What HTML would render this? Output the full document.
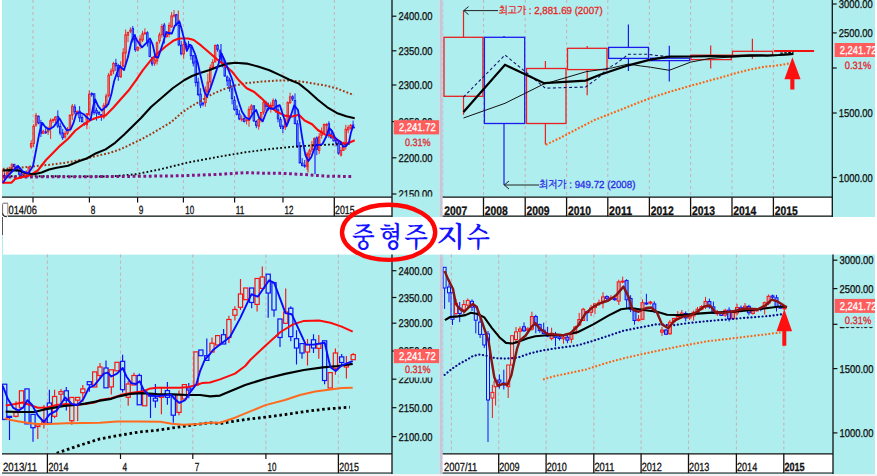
<!DOCTYPE html>
<html lang="ko"><head><meta charset="utf-8"><title>중형주 지수</title>
<style>html,body{margin:0;padding:0;background:#fff;overflow:hidden}svg{display:block}text{white-space:pre}</style>
</head><body>
<svg width="877" height="476" viewBox="0 0 877 476" shape-rendering="auto" text-rendering="geometricPrecision">
<defs>
<clipPath id="cTL"><rect x="2" y="0" width="390" height="197"/></clipPath>
<clipPath id="cTLy"><rect x="392" y="0" width="48" height="196.6"/></clipPath>
<clipPath id="cTR"><rect x="442.5" y="0" width="389.5" height="197"/></clipPath>
<clipPath id="cBL"><rect x="2" y="254.6" width="390" height="199"/></clipPath>
<clipPath id="cBR"><rect x="442.5" y="254.6" width="390" height="199"/></clipPath>
<clipPath id="cR"><rect x="832" y="0" width="43" height="476"/></clipPath>
</defs>
<rect x="0" y="0" width="877" height="476" fill="#fff"/>
<rect x="2.0" y="0.0" width="437.5" height="217.0" fill="#afeeee"/>
<rect x="442.5" y="0.0" width="432.5" height="217.0" fill="#afeeee"/>
<rect x="2.0" y="254.6" width="437.5" height="219.4" fill="#afeeee"/>
<rect x="442.5" y="254.6" width="432.5" height="219.4" fill="#afeeee"/>
<rect x="439.5" y="0.0" width="3.8" height="217.0" fill="#c6c6d7"/>
<rect x="439.5" y="254.6" width="3.8" height="219.4" fill="#c6c6d7"/>
<rect x="0.0" y="474.0" width="877.0" height="2.0" fill="#f2f2f2"/>
<line x1="2.5" y1="217.0" x2="2.5" y2="235.0" stroke="#555" stroke-width="1"/>
<line x1="2.5" y1="235.0" x2="2.5" y2="254.6" stroke="#afeeee" stroke-width="1"/>
<line x1="33.0" y1="0.0" x2="33.0" y2="197.0" stroke="#c9b4b9" stroke-width="1.1" stroke-dasharray="3.1 2.9"/>
<line x1="89.4" y1="0.0" x2="89.4" y2="197.0" stroke="#c9b4b9" stroke-width="1.1" stroke-dasharray="3.1 2.9"/>
<line x1="137.6" y1="0.0" x2="137.6" y2="197.0" stroke="#c9b4b9" stroke-width="1.1" stroke-dasharray="3.1 2.9"/>
<line x1="183.4" y1="0.0" x2="183.4" y2="197.0" stroke="#c9b4b9" stroke-width="1.1" stroke-dasharray="3.1 2.9"/>
<line x1="234.6" y1="0.0" x2="234.6" y2="197.0" stroke="#c9b4b9" stroke-width="1.1" stroke-dasharray="3.1 2.9"/>
<line x1="283.0" y1="0.0" x2="283.0" y2="197.0" stroke="#c9b4b9" stroke-width="1.1" stroke-dasharray="3.1 2.9"/>
<line x1="334.4" y1="0.0" x2="334.4" y2="197.0" stroke="#c9b4b9" stroke-width="1.1" stroke-dasharray="3.1 2.9"/>
<line x1="483.5" y1="0.0" x2="483.5" y2="197.0" stroke="#c9b4b9" stroke-width="1.1" stroke-dasharray="3.1 2.9"/>
<line x1="525.2" y1="0.0" x2="525.2" y2="197.0" stroke="#c9b4b9" stroke-width="1.1" stroke-dasharray="3.1 2.9"/>
<line x1="566.6" y1="0.0" x2="566.6" y2="197.0" stroke="#c9b4b9" stroke-width="1.1" stroke-dasharray="3.1 2.9"/>
<line x1="607.8" y1="0.0" x2="607.8" y2="197.0" stroke="#c9b4b9" stroke-width="1.1" stroke-dasharray="3.1 2.9"/>
<line x1="649.4" y1="0.0" x2="649.4" y2="197.0" stroke="#c9b4b9" stroke-width="1.1" stroke-dasharray="3.1 2.9"/>
<line x1="690.6" y1="0.0" x2="690.6" y2="197.0" stroke="#c9b4b9" stroke-width="1.1" stroke-dasharray="3.1 2.9"/>
<line x1="732.0" y1="0.0" x2="732.0" y2="197.0" stroke="#c9b4b9" stroke-width="1.1" stroke-dasharray="3.1 2.9"/>
<line x1="773.4" y1="0.0" x2="773.4" y2="197.0" stroke="#c9b4b9" stroke-width="1.1" stroke-dasharray="3.1 2.9"/>
<line x1="47.4" y1="254.6" x2="47.4" y2="453.5" stroke="#c9b4b9" stroke-width="1.1" stroke-dasharray="3.1 2.9"/>
<line x1="120.5" y1="254.6" x2="120.5" y2="453.5" stroke="#c9b4b9" stroke-width="1.1" stroke-dasharray="3.1 2.9"/>
<line x1="192.8" y1="254.6" x2="192.8" y2="453.5" stroke="#c9b4b9" stroke-width="1.1" stroke-dasharray="3.1 2.9"/>
<line x1="265.9" y1="254.6" x2="265.9" y2="453.5" stroke="#c9b4b9" stroke-width="1.1" stroke-dasharray="3.1 2.9"/>
<line x1="338.4" y1="254.6" x2="338.4" y2="453.5" stroke="#c9b4b9" stroke-width="1.1" stroke-dasharray="3.1 2.9"/>
<line x1="451.4" y1="254.6" x2="451.4" y2="453.5" stroke="#c9b4b9" stroke-width="1.1" stroke-dasharray="3.1 2.9"/>
<line x1="498.7" y1="254.6" x2="498.7" y2="453.5" stroke="#c9b4b9" stroke-width="1.1" stroke-dasharray="3.1 2.9"/>
<line x1="546.1" y1="254.6" x2="546.1" y2="453.5" stroke="#c9b4b9" stroke-width="1.1" stroke-dasharray="3.1 2.9"/>
<line x1="593.8" y1="254.6" x2="593.8" y2="453.5" stroke="#c9b4b9" stroke-width="1.1" stroke-dasharray="3.1 2.9"/>
<line x1="641.1" y1="254.6" x2="641.1" y2="453.5" stroke="#c9b4b9" stroke-width="1.1" stroke-dasharray="3.1 2.9"/>
<line x1="688.5" y1="254.6" x2="688.5" y2="453.5" stroke="#c9b4b9" stroke-width="1.1" stroke-dasharray="3.1 2.9"/>
<line x1="736.4" y1="254.6" x2="736.4" y2="453.5" stroke="#c9b4b9" stroke-width="1.1" stroke-dasharray="3.1 2.9"/>
<line x1="783.8" y1="254.6" x2="783.8" y2="453.5" stroke="#c9b4b9" stroke-width="1.1" stroke-dasharray="3.1 2.9"/>
<line x1="442.9" y1="0.0" x2="442.9" y2="217.0" stroke="#afeeee" stroke-width="0.9" stroke-dasharray="3 3"/>
<line x1="442.9" y1="254.6" x2="442.9" y2="474.0" stroke="#afeeee" stroke-width="0.9" stroke-dasharray="3 3"/>
<!--DATA-->
<!--AXES-->
<g clip-path="url(#cTL)">
<rect x="2.3" y="170.0" width="2.0" height="13.0" fill="none" stroke="#fa1414" stroke-width="1"/>
<line x1="4.6" y1="173.5" x2="4.6" y2="175.7" stroke="#1010fa" stroke-width="0.9"/>
<line x1="4.6" y1="176.7" x2="4.6" y2="178.5" stroke="#1010fa" stroke-width="0.9"/>
<rect x="3.8" y="175.7" width="1.5" height="1.0" fill="#1010fa" fill-opacity="0.35" stroke="#1010fa" stroke-width="0.9"/>
<line x1="7.0" y1="171.6" x2="7.0" y2="172.7" stroke="#fa1414" stroke-width="0.9"/>
<line x1="7.0" y1="176.7" x2="7.0" y2="178.2" stroke="#fa1414" stroke-width="0.9"/>
<rect x="6.3" y="172.7" width="1.5" height="4.1" fill="#fa1414" fill-opacity="0.35" stroke="#fa1414" stroke-width="0.9"/>
<line x1="9.4" y1="166.7" x2="9.4" y2="170.1" stroke="#fa1414" stroke-width="0.9"/>
<line x1="9.4" y1="174.2" x2="9.4" y2="175.1" stroke="#fa1414" stroke-width="0.9"/>
<rect x="8.7" y="170.1" width="1.5" height="4.1" fill="#fa1414" fill-opacity="0.35" stroke="#fa1414" stroke-width="0.9"/>
<line x1="11.9" y1="163.0" x2="11.9" y2="164.8" stroke="#fa1414" stroke-width="0.9"/>
<line x1="11.9" y1="170.2" x2="11.9" y2="172.4" stroke="#fa1414" stroke-width="0.9"/>
<rect x="11.1" y="164.8" width="1.5" height="5.4" fill="#fa1414" fill-opacity="0.35" stroke="#fa1414" stroke-width="0.9"/>
<line x1="14.3" y1="163.8" x2="14.3" y2="164.4" stroke="#1010fa" stroke-width="0.9"/>
<line x1="14.3" y1="166.7" x2="14.3" y2="169.5" stroke="#1010fa" stroke-width="0.9"/>
<rect x="13.5" y="164.4" width="1.5" height="2.3" fill="#1010fa" fill-opacity="0.35" stroke="#1010fa" stroke-width="0.9"/>
<line x1="16.7" y1="165.5" x2="16.7" y2="167.0" stroke="#1010fa" stroke-width="0.9"/>
<line x1="16.7" y1="170.5" x2="16.7" y2="171.6" stroke="#1010fa" stroke-width="0.9"/>
<rect x="15.9" y="167.0" width="1.5" height="3.5" fill="#1010fa" fill-opacity="0.35" stroke="#1010fa" stroke-width="0.9"/>
<line x1="19.1" y1="167.8" x2="19.1" y2="170.7" stroke="#1010fa" stroke-width="0.9"/>
<line x1="19.1" y1="174.3" x2="19.1" y2="175.2" stroke="#1010fa" stroke-width="0.9"/>
<rect x="18.4" y="170.7" width="1.5" height="3.6" fill="#1010fa" fill-opacity="0.35" stroke="#1010fa" stroke-width="0.9"/>
<line x1="21.5" y1="172.0" x2="21.5" y2="173.8" stroke="#1010fa" stroke-width="0.9"/>
<line x1="21.5" y1="175.2" x2="21.5" y2="176.4" stroke="#1010fa" stroke-width="0.9"/>
<rect x="20.8" y="173.8" width="1.5" height="1.4" fill="#1010fa" fill-opacity="0.35" stroke="#1010fa" stroke-width="0.9"/>
<line x1="24.0" y1="172.8" x2="24.0" y2="173.7" stroke="#fa1414" stroke-width="0.9"/>
<line x1="24.0" y1="174.7" x2="24.0" y2="175.6" stroke="#fa1414" stroke-width="0.9"/>
<rect x="23.2" y="173.7" width="1.5" height="1.0" fill="#fa1414" fill-opacity="0.35" stroke="#fa1414" stroke-width="0.9"/>
<line x1="26.4" y1="170.5" x2="26.4" y2="173.0" stroke="#fa1414" stroke-width="0.9"/>
<line x1="26.4" y1="174.0" x2="26.4" y2="175.2" stroke="#fa1414" stroke-width="0.9"/>
<rect x="25.6" y="173.0" width="1.5" height="1.0" fill="#fa1414" fill-opacity="0.35" stroke="#fa1414" stroke-width="0.9"/>
<line x1="28.8" y1="166.1" x2="28.8" y2="167.6" stroke="#fa1414" stroke-width="0.9"/>
<line x1="28.8" y1="173.5" x2="28.8" y2="174.9" stroke="#fa1414" stroke-width="0.9"/>
<rect x="28.0" y="167.6" width="1.5" height="5.9" fill="#fa1414" fill-opacity="0.35" stroke="#fa1414" stroke-width="0.9"/>
<line x1="31.2" y1="140.2" x2="31.2" y2="143.5" stroke="#fa1414" stroke-width="0.9"/>
<line x1="31.2" y1="146.8" x2="31.2" y2="148.7" stroke="#fa1414" stroke-width="0.9"/>
<rect x="30.4" y="143.5" width="1.5" height="3.3" fill="#fa1414" fill-opacity="0.35" stroke="#fa1414" stroke-width="0.9"/>
<line x1="33.6" y1="124.2" x2="33.6" y2="126.1" stroke="#fa1414" stroke-width="0.9"/>
<line x1="33.6" y1="143.5" x2="33.6" y2="147.2" stroke="#fa1414" stroke-width="0.9"/>
<rect x="32.9" y="126.1" width="1.5" height="17.4" fill="#fa1414" fill-opacity="0.35" stroke="#fa1414" stroke-width="0.9"/>
<line x1="36.0" y1="112.9" x2="36.0" y2="115.4" stroke="#fa1414" stroke-width="0.9"/>
<line x1="36.0" y1="125.0" x2="36.0" y2="126.8" stroke="#fa1414" stroke-width="0.9"/>
<rect x="35.3" y="115.4" width="1.5" height="9.6" fill="#fa1414" fill-opacity="0.35" stroke="#fa1414" stroke-width="0.9"/>
<line x1="38.5" y1="115.5" x2="38.5" y2="116.2" stroke="#1010fa" stroke-width="0.9"/>
<line x1="38.5" y1="122.9" x2="38.5" y2="124.1" stroke="#1010fa" stroke-width="0.9"/>
<rect x="37.7" y="116.2" width="1.5" height="6.7" fill="#1010fa" fill-opacity="0.35" stroke="#1010fa" stroke-width="0.9"/>
<line x1="40.9" y1="119.9" x2="40.9" y2="122.6" stroke="#1010fa" stroke-width="0.9"/>
<line x1="40.9" y1="133.2" x2="40.9" y2="137.0" stroke="#1010fa" stroke-width="0.9"/>
<rect x="40.1" y="122.6" width="1.5" height="10.6" fill="#1010fa" fill-opacity="0.35" stroke="#1010fa" stroke-width="0.9"/>
<line x1="43.3" y1="129.7" x2="43.3" y2="131.2" stroke="#fa1414" stroke-width="0.9"/>
<line x1="43.3" y1="133.4" x2="43.3" y2="133.9" stroke="#fa1414" stroke-width="0.9"/>
<rect x="42.5" y="131.2" width="1.5" height="2.2" fill="#fa1414" fill-opacity="0.35" stroke="#fa1414" stroke-width="0.9"/>
<line x1="45.7" y1="128.2" x2="45.7" y2="131.8" stroke="#1010fa" stroke-width="0.9"/>
<line x1="45.7" y1="132.8" x2="45.7" y2="133.9" stroke="#1010fa" stroke-width="0.9"/>
<rect x="45.0" y="131.8" width="1.5" height="1.0" fill="#1010fa" fill-opacity="0.35" stroke="#1010fa" stroke-width="0.9"/>
<line x1="48.1" y1="126.4" x2="48.1" y2="129.1" stroke="#fa1414" stroke-width="0.9"/>
<line x1="48.1" y1="131.9" x2="48.1" y2="135.0" stroke="#fa1414" stroke-width="0.9"/>
<rect x="47.4" y="129.1" width="1.5" height="2.8" fill="#fa1414" fill-opacity="0.35" stroke="#fa1414" stroke-width="0.9"/>
<line x1="50.6" y1="118.4" x2="50.6" y2="120.6" stroke="#fa1414" stroke-width="0.9"/>
<line x1="50.6" y1="128.3" x2="50.6" y2="139.0" stroke="#fa1414" stroke-width="0.9"/>
<rect x="49.8" y="120.6" width="1.5" height="7.7" fill="#fa1414" fill-opacity="0.35" stroke="#fa1414" stroke-width="0.9"/>
<line x1="53.0" y1="118.3" x2="53.0" y2="119.6" stroke="#fa1414" stroke-width="0.9"/>
<line x1="53.0" y1="120.6" x2="53.0" y2="123.0" stroke="#fa1414" stroke-width="0.9"/>
<rect x="52.2" y="119.6" width="1.5" height="1.0" fill="#fa1414" fill-opacity="0.35" stroke="#fa1414" stroke-width="0.9"/>
<line x1="55.4" y1="116.3" x2="55.4" y2="117.0" stroke="#fa1414" stroke-width="0.9"/>
<line x1="55.4" y1="119.9" x2="55.4" y2="123.3" stroke="#fa1414" stroke-width="0.9"/>
<rect x="54.6" y="117.0" width="1.5" height="2.9" fill="#fa1414" fill-opacity="0.35" stroke="#fa1414" stroke-width="0.9"/>
<line x1="57.8" y1="110.3" x2="57.8" y2="116.3" stroke="#1010fa" stroke-width="0.9"/>
<line x1="57.8" y1="126.2" x2="57.8" y2="128.1" stroke="#1010fa" stroke-width="0.9"/>
<rect x="57.1" y="116.3" width="1.5" height="9.9" fill="#1010fa" fill-opacity="0.35" stroke="#1010fa" stroke-width="0.9"/>
<line x1="60.2" y1="122.9" x2="60.2" y2="126.2" stroke="#1010fa" stroke-width="0.9"/>
<line x1="60.2" y1="133.1" x2="60.2" y2="135.3" stroke="#1010fa" stroke-width="0.9"/>
<rect x="59.5" y="126.2" width="1.5" height="6.9" fill="#1010fa" fill-opacity="0.35" stroke="#1010fa" stroke-width="0.9"/>
<line x1="62.7" y1="128.8" x2="62.7" y2="133.0" stroke="#1010fa" stroke-width="0.9"/>
<line x1="62.7" y1="137.6" x2="62.7" y2="139.9" stroke="#1010fa" stroke-width="0.9"/>
<rect x="61.9" y="133.0" width="1.5" height="4.6" fill="#1010fa" fill-opacity="0.35" stroke="#1010fa" stroke-width="0.9"/>
<line x1="65.1" y1="130.8" x2="65.1" y2="133.5" stroke="#fa1414" stroke-width="0.9"/>
<line x1="65.1" y1="136.9" x2="65.1" y2="138.7" stroke="#fa1414" stroke-width="0.9"/>
<rect x="64.3" y="133.5" width="1.5" height="3.5" fill="#fa1414" fill-opacity="0.35" stroke="#fa1414" stroke-width="0.9"/>
<line x1="67.5" y1="127.1" x2="67.5" y2="129.2" stroke="#fa1414" stroke-width="0.9"/>
<line x1="67.5" y1="133.1" x2="67.5" y2="135.1" stroke="#fa1414" stroke-width="0.9"/>
<rect x="66.8" y="129.2" width="1.5" height="4.0" fill="#fa1414" fill-opacity="0.35" stroke="#fa1414" stroke-width="0.9"/>
<line x1="69.9" y1="114.3" x2="69.9" y2="115.3" stroke="#fa1414" stroke-width="0.9"/>
<line x1="69.9" y1="129.4" x2="69.9" y2="131.6" stroke="#fa1414" stroke-width="0.9"/>
<rect x="69.2" y="115.3" width="1.5" height="14.1" fill="#fa1414" fill-opacity="0.35" stroke="#fa1414" stroke-width="0.9"/>
<line x1="72.3" y1="104.0" x2="72.3" y2="106.2" stroke="#fa1414" stroke-width="0.9"/>
<line x1="72.3" y1="115.0" x2="72.3" y2="119.9" stroke="#fa1414" stroke-width="0.9"/>
<rect x="71.6" y="106.2" width="1.5" height="8.8" fill="#fa1414" fill-opacity="0.35" stroke="#fa1414" stroke-width="0.9"/>
<line x1="74.8" y1="104.3" x2="74.8" y2="107.0" stroke="#1010fa" stroke-width="0.9"/>
<line x1="74.8" y1="111.9" x2="74.8" y2="114.4" stroke="#1010fa" stroke-width="0.9"/>
<rect x="74.0" y="107.0" width="1.5" height="4.9" fill="#1010fa" fill-opacity="0.35" stroke="#1010fa" stroke-width="0.9"/>
<line x1="77.2" y1="110.3" x2="77.2" y2="111.6" stroke="#fa1414" stroke-width="0.9"/>
<line x1="77.2" y1="112.6" x2="77.2" y2="115.4" stroke="#fa1414" stroke-width="0.9"/>
<rect x="76.4" y="111.6" width="1.5" height="1.0" fill="#fa1414" fill-opacity="0.35" stroke="#fa1414" stroke-width="0.9"/>
<line x1="79.6" y1="106.1" x2="79.6" y2="111.2" stroke="#1010fa" stroke-width="0.9"/>
<line x1="79.6" y1="117.9" x2="79.6" y2="121.9" stroke="#1010fa" stroke-width="0.9"/>
<rect x="78.8" y="111.2" width="1.5" height="6.7" fill="#1010fa" fill-opacity="0.35" stroke="#1010fa" stroke-width="0.9"/>
<line x1="82.0" y1="115.1" x2="82.0" y2="117.5" stroke="#1010fa" stroke-width="0.9"/>
<line x1="82.0" y1="121.7" x2="82.0" y2="122.3" stroke="#1010fa" stroke-width="0.9"/>
<rect x="81.3" y="117.5" width="1.5" height="4.2" fill="#1010fa" fill-opacity="0.35" stroke="#1010fa" stroke-width="0.9"/>
<line x1="84.4" y1="122.4" x2="84.4" y2="123.2" stroke="#1010fa" stroke-width="0.9"/>
<line x1="84.4" y1="124.2" x2="84.4" y2="125.7" stroke="#1010fa" stroke-width="0.9"/>
<rect x="83.7" y="123.2" width="1.5" height="1.0" fill="#1010fa" fill-opacity="0.35" stroke="#1010fa" stroke-width="0.9"/>
<line x1="86.9" y1="113.2" x2="86.9" y2="113.7" stroke="#fa1414" stroke-width="0.9"/>
<line x1="86.9" y1="124.8" x2="86.9" y2="129.2" stroke="#fa1414" stroke-width="0.9"/>
<rect x="86.1" y="113.7" width="1.5" height="11.0" fill="#fa1414" fill-opacity="0.35" stroke="#fa1414" stroke-width="0.9"/>
<line x1="89.3" y1="90.4" x2="89.3" y2="94.2" stroke="#fa1414" stroke-width="0.9"/>
<line x1="89.3" y1="114.4" x2="89.3" y2="115.7" stroke="#fa1414" stroke-width="0.9"/>
<rect x="88.5" y="94.2" width="1.5" height="20.2" fill="#fa1414" fill-opacity="0.35" stroke="#fa1414" stroke-width="0.9"/>
<line x1="91.7" y1="92.3" x2="91.7" y2="93.4" stroke="#1010fa" stroke-width="0.9"/>
<line x1="91.7" y1="94.7" x2="91.7" y2="96.7" stroke="#1010fa" stroke-width="0.9"/>
<rect x="91.0" y="93.4" width="1.5" height="1.3" fill="#1010fa" fill-opacity="0.35" stroke="#1010fa" stroke-width="0.9"/>
<line x1="94.1" y1="93.4" x2="94.1" y2="93.8" stroke="#1010fa" stroke-width="0.9"/>
<line x1="94.1" y1="112.5" x2="94.1" y2="114.9" stroke="#1010fa" stroke-width="0.9"/>
<rect x="93.4" y="93.8" width="1.5" height="18.7" fill="#1010fa" fill-opacity="0.35" stroke="#1010fa" stroke-width="0.9"/>
<line x1="96.5" y1="107.7" x2="96.5" y2="110.5" stroke="#1010fa" stroke-width="0.9"/>
<line x1="96.5" y1="113.3" x2="96.5" y2="120.6" stroke="#1010fa" stroke-width="0.9"/>
<rect x="95.8" y="110.5" width="1.5" height="2.7" fill="#1010fa" fill-opacity="0.35" stroke="#1010fa" stroke-width="0.9"/>
<line x1="99.0" y1="110.9" x2="99.0" y2="112.5" stroke="#1010fa" stroke-width="0.9"/>
<line x1="99.0" y1="114.2" x2="99.0" y2="115.3" stroke="#1010fa" stroke-width="0.9"/>
<rect x="98.2" y="112.5" width="1.5" height="1.7" fill="#1010fa" fill-opacity="0.35" stroke="#1010fa" stroke-width="0.9"/>
<line x1="101.4" y1="114.0" x2="101.4" y2="114.7" stroke="#1010fa" stroke-width="0.9"/>
<line x1="101.4" y1="115.7" x2="101.4" y2="120.8" stroke="#1010fa" stroke-width="0.9"/>
<rect x="100.6" y="114.7" width="1.5" height="1.0" fill="#1010fa" fill-opacity="0.35" stroke="#1010fa" stroke-width="0.9"/>
<line x1="103.8" y1="103.1" x2="103.8" y2="105.6" stroke="#fa1414" stroke-width="0.9"/>
<line x1="103.8" y1="117.3" x2="103.8" y2="119.1" stroke="#fa1414" stroke-width="0.9"/>
<rect x="103.0" y="105.6" width="1.5" height="11.6" fill="#fa1414" fill-opacity="0.35" stroke="#fa1414" stroke-width="0.9"/>
<line x1="106.2" y1="93.7" x2="106.2" y2="96.0" stroke="#fa1414" stroke-width="0.9"/>
<line x1="106.2" y1="106.8" x2="106.2" y2="108.1" stroke="#fa1414" stroke-width="0.9"/>
<rect x="105.5" y="96.0" width="1.5" height="10.8" fill="#fa1414" fill-opacity="0.35" stroke="#fa1414" stroke-width="0.9"/>
<line x1="108.6" y1="73.0" x2="108.6" y2="75.3" stroke="#fa1414" stroke-width="0.9"/>
<line x1="108.6" y1="95.4" x2="108.6" y2="97.4" stroke="#fa1414" stroke-width="0.9"/>
<rect x="107.9" y="75.3" width="1.5" height="20.2" fill="#fa1414" fill-opacity="0.35" stroke="#fa1414" stroke-width="0.9"/>
<line x1="111.1" y1="68.3" x2="111.1" y2="71.0" stroke="#fa1414" stroke-width="0.9"/>
<line x1="111.1" y1="75.0" x2="111.1" y2="75.6" stroke="#fa1414" stroke-width="0.9"/>
<rect x="110.3" y="71.0" width="1.5" height="4.0" fill="#fa1414" fill-opacity="0.35" stroke="#fa1414" stroke-width="0.9"/>
<line x1="113.5" y1="61.8" x2="113.5" y2="63.5" stroke="#fa1414" stroke-width="0.9"/>
<line x1="113.5" y1="71.1" x2="113.5" y2="74.1" stroke="#fa1414" stroke-width="0.9"/>
<rect x="112.7" y="63.5" width="1.5" height="7.6" fill="#fa1414" fill-opacity="0.35" stroke="#fa1414" stroke-width="0.9"/>
<line x1="115.9" y1="58.8" x2="115.9" y2="63.3" stroke="#1010fa" stroke-width="0.9"/>
<line x1="115.9" y1="65.8" x2="115.9" y2="71.0" stroke="#1010fa" stroke-width="0.9"/>
<rect x="115.2" y="63.3" width="1.5" height="2.5" fill="#1010fa" fill-opacity="0.35" stroke="#1010fa" stroke-width="0.9"/>
<line x1="118.3" y1="63.8" x2="118.3" y2="65.6" stroke="#1010fa" stroke-width="0.9"/>
<line x1="118.3" y1="76.7" x2="118.3" y2="80.8" stroke="#1010fa" stroke-width="0.9"/>
<rect x="117.6" y="65.6" width="1.5" height="11.0" fill="#1010fa" fill-opacity="0.35" stroke="#1010fa" stroke-width="0.9"/>
<line x1="120.7" y1="61.2" x2="120.7" y2="68.1" stroke="#fa1414" stroke-width="0.9"/>
<line x1="120.7" y1="76.8" x2="120.7" y2="78.0" stroke="#fa1414" stroke-width="0.9"/>
<rect x="120.0" y="68.1" width="1.5" height="8.7" fill="#fa1414" fill-opacity="0.35" stroke="#fa1414" stroke-width="0.9"/>
<line x1="123.2" y1="48.2" x2="123.2" y2="52.8" stroke="#fa1414" stroke-width="0.9"/>
<line x1="123.2" y1="66.1" x2="123.2" y2="67.0" stroke="#fa1414" stroke-width="0.9"/>
<rect x="122.4" y="52.8" width="1.5" height="13.3" fill="#fa1414" fill-opacity="0.35" stroke="#fa1414" stroke-width="0.9"/>
<line x1="125.6" y1="29.5" x2="125.6" y2="34.8" stroke="#fa1414" stroke-width="0.9"/>
<line x1="125.6" y1="53.0" x2="125.6" y2="63.8" stroke="#fa1414" stroke-width="0.9"/>
<rect x="124.8" y="34.8" width="1.5" height="18.2" fill="#fa1414" fill-opacity="0.35" stroke="#fa1414" stroke-width="0.9"/>
<line x1="128.0" y1="31.6" x2="128.0" y2="32.5" stroke="#fa1414" stroke-width="0.9"/>
<line x1="128.0" y1="35.2" x2="128.0" y2="42.1" stroke="#fa1414" stroke-width="0.9"/>
<rect x="127.2" y="32.5" width="1.5" height="2.7" fill="#fa1414" fill-opacity="0.35" stroke="#fa1414" stroke-width="0.9"/>
<line x1="130.4" y1="27.4" x2="130.4" y2="30.2" stroke="#fa1414" stroke-width="0.9"/>
<line x1="130.4" y1="31.2" x2="130.4" y2="33.1" stroke="#fa1414" stroke-width="0.9"/>
<rect x="129.7" y="30.2" width="1.5" height="1.0" fill="#fa1414" fill-opacity="0.35" stroke="#fa1414" stroke-width="0.9"/>
<line x1="132.8" y1="26.0" x2="132.8" y2="28.6" stroke="#1010fa" stroke-width="0.9"/>
<line x1="132.8" y1="40.0" x2="132.8" y2="42.7" stroke="#1010fa" stroke-width="0.9"/>
<rect x="132.1" y="28.6" width="1.5" height="11.4" fill="#1010fa" fill-opacity="0.35" stroke="#1010fa" stroke-width="0.9"/>
<line x1="135.3" y1="34.2" x2="135.3" y2="38.4" stroke="#1010fa" stroke-width="0.9"/>
<line x1="135.3" y1="49.6" x2="135.3" y2="51.9" stroke="#1010fa" stroke-width="0.9"/>
<rect x="134.5" y="38.4" width="1.5" height="11.2" fill="#1010fa" fill-opacity="0.35" stroke="#1010fa" stroke-width="0.9"/>
<line x1="137.7" y1="46.2" x2="137.7" y2="47.5" stroke="#fa1414" stroke-width="0.9"/>
<line x1="137.7" y1="50.4" x2="137.7" y2="51.5" stroke="#fa1414" stroke-width="0.9"/>
<rect x="136.9" y="47.5" width="1.5" height="2.8" fill="#fa1414" fill-opacity="0.35" stroke="#fa1414" stroke-width="0.9"/>
<line x1="140.1" y1="35.2" x2="140.1" y2="39.1" stroke="#fa1414" stroke-width="0.9"/>
<line x1="140.1" y1="45.5" x2="140.1" y2="49.2" stroke="#fa1414" stroke-width="0.9"/>
<rect x="139.3" y="39.1" width="1.5" height="6.4" fill="#fa1414" fill-opacity="0.35" stroke="#fa1414" stroke-width="0.9"/>
<line x1="142.5" y1="30.8" x2="142.5" y2="34.0" stroke="#fa1414" stroke-width="0.9"/>
<line x1="142.5" y1="40.0" x2="142.5" y2="42.0" stroke="#fa1414" stroke-width="0.9"/>
<rect x="141.8" y="34.0" width="1.5" height="6.0" fill="#fa1414" fill-opacity="0.35" stroke="#fa1414" stroke-width="0.9"/>
<line x1="144.9" y1="28.3" x2="144.9" y2="32.7" stroke="#fa1414" stroke-width="0.9"/>
<line x1="144.9" y1="33.7" x2="144.9" y2="34.9" stroke="#fa1414" stroke-width="0.9"/>
<rect x="144.2" y="32.7" width="1.5" height="1.0" fill="#fa1414" fill-opacity="0.35" stroke="#fa1414" stroke-width="0.9"/>
<line x1="147.4" y1="31.3" x2="147.4" y2="32.8" stroke="#1010fa" stroke-width="0.9"/>
<line x1="147.4" y1="42.9" x2="147.4" y2="46.7" stroke="#1010fa" stroke-width="0.9"/>
<rect x="146.6" y="32.8" width="1.5" height="10.2" fill="#1010fa" fill-opacity="0.35" stroke="#1010fa" stroke-width="0.9"/>
<line x1="149.8" y1="41.3" x2="149.8" y2="41.7" stroke="#1010fa" stroke-width="0.9"/>
<line x1="149.8" y1="56.4" x2="149.8" y2="57.3" stroke="#1010fa" stroke-width="0.9"/>
<rect x="149.0" y="41.7" width="1.5" height="14.7" fill="#1010fa" fill-opacity="0.35" stroke="#1010fa" stroke-width="0.9"/>
<line x1="152.2" y1="56.7" x2="152.2" y2="57.6" stroke="#1010fa" stroke-width="0.9"/>
<line x1="152.2" y1="63.9" x2="152.2" y2="66.1" stroke="#1010fa" stroke-width="0.9"/>
<rect x="151.4" y="57.6" width="1.5" height="6.3" fill="#1010fa" fill-opacity="0.35" stroke="#1010fa" stroke-width="0.9"/>
<line x1="154.6" y1="53.7" x2="154.6" y2="60.0" stroke="#fa1414" stroke-width="0.9"/>
<line x1="154.6" y1="63.2" x2="154.6" y2="65.9" stroke="#fa1414" stroke-width="0.9"/>
<rect x="153.9" y="60.0" width="1.5" height="3.2" fill="#fa1414" fill-opacity="0.35" stroke="#fa1414" stroke-width="0.9"/>
<line x1="157.0" y1="41.4" x2="157.0" y2="42.8" stroke="#fa1414" stroke-width="0.9"/>
<line x1="157.0" y1="61.1" x2="157.0" y2="64.6" stroke="#fa1414" stroke-width="0.9"/>
<rect x="156.3" y="42.8" width="1.5" height="18.3" fill="#fa1414" fill-opacity="0.35" stroke="#fa1414" stroke-width="0.9"/>
<line x1="159.5" y1="32.5" x2="159.5" y2="35.0" stroke="#fa1414" stroke-width="0.9"/>
<line x1="159.5" y1="41.1" x2="159.5" y2="43.5" stroke="#fa1414" stroke-width="0.9"/>
<rect x="158.7" y="35.0" width="1.5" height="6.0" fill="#fa1414" fill-opacity="0.35" stroke="#fa1414" stroke-width="0.9"/>
<line x1="161.9" y1="23.8" x2="161.9" y2="26.5" stroke="#fa1414" stroke-width="0.9"/>
<line x1="161.9" y1="34.7" x2="161.9" y2="37.7" stroke="#fa1414" stroke-width="0.9"/>
<rect x="161.1" y="26.5" width="1.5" height="8.2" fill="#fa1414" fill-opacity="0.35" stroke="#fa1414" stroke-width="0.9"/>
<line x1="164.3" y1="22.9" x2="164.3" y2="25.1" stroke="#1010fa" stroke-width="0.9"/>
<line x1="164.3" y1="36.1" x2="164.3" y2="43.6" stroke="#1010fa" stroke-width="0.9"/>
<rect x="163.5" y="25.1" width="1.5" height="11.0" fill="#1010fa" fill-opacity="0.35" stroke="#1010fa" stroke-width="0.9"/>
<line x1="166.7" y1="31.0" x2="166.7" y2="33.7" stroke="#fa1414" stroke-width="0.9"/>
<line x1="166.7" y1="36.6" x2="166.7" y2="37.7" stroke="#fa1414" stroke-width="0.9"/>
<rect x="166.0" y="33.7" width="1.5" height="2.9" fill="#fa1414" fill-opacity="0.35" stroke="#fa1414" stroke-width="0.9"/>
<line x1="169.1" y1="22.5" x2="169.1" y2="25.4" stroke="#fa1414" stroke-width="0.9"/>
<line x1="169.1" y1="34.5" x2="169.1" y2="37.4" stroke="#fa1414" stroke-width="0.9"/>
<rect x="168.4" y="25.4" width="1.5" height="9.1" fill="#fa1414" fill-opacity="0.35" stroke="#fa1414" stroke-width="0.9"/>
<line x1="171.6" y1="12.2" x2="171.6" y2="15.9" stroke="#fa1414" stroke-width="0.9"/>
<line x1="171.6" y1="26.9" x2="171.6" y2="27.6" stroke="#fa1414" stroke-width="0.9"/>
<rect x="170.8" y="15.9" width="1.5" height="11.0" fill="#fa1414" fill-opacity="0.35" stroke="#fa1414" stroke-width="0.9"/>
<line x1="174.0" y1="10.0" x2="174.0" y2="15.0" stroke="#fa1414" stroke-width="0.9"/>
<line x1="174.0" y1="16.0" x2="174.0" y2="17.6" stroke="#fa1414" stroke-width="0.9"/>
<rect x="173.2" y="15.0" width="1.5" height="1.0" fill="#fa1414" fill-opacity="0.35" stroke="#fa1414" stroke-width="0.9"/>
<line x1="176.4" y1="14.1" x2="176.4" y2="14.6" stroke="#1010fa" stroke-width="0.9"/>
<line x1="176.4" y1="24.8" x2="176.4" y2="25.8" stroke="#1010fa" stroke-width="0.9"/>
<rect x="175.6" y="14.6" width="1.5" height="10.2" fill="#1010fa" fill-opacity="0.35" stroke="#1010fa" stroke-width="0.9"/>
<line x1="178.8" y1="19.6" x2="178.8" y2="25.5" stroke="#1010fa" stroke-width="0.9"/>
<line x1="178.8" y1="44.8" x2="178.8" y2="46.1" stroke="#1010fa" stroke-width="0.9"/>
<rect x="178.1" y="25.5" width="1.5" height="19.3" fill="#1010fa" fill-opacity="0.35" stroke="#1010fa" stroke-width="0.9"/>
<line x1="181.2" y1="40.8" x2="181.2" y2="45.3" stroke="#1010fa" stroke-width="0.9"/>
<line x1="181.2" y1="53.6" x2="181.2" y2="55.3" stroke="#1010fa" stroke-width="0.9"/>
<rect x="180.5" y="45.3" width="1.5" height="8.4" fill="#1010fa" fill-opacity="0.35" stroke="#1010fa" stroke-width="0.9"/>
<line x1="183.7" y1="40.8" x2="183.7" y2="44.3" stroke="#fa1414" stroke-width="0.9"/>
<line x1="183.7" y1="54.0" x2="183.7" y2="58.9" stroke="#fa1414" stroke-width="0.9"/>
<rect x="182.9" y="44.3" width="1.5" height="9.7" fill="#fa1414" fill-opacity="0.35" stroke="#fa1414" stroke-width="0.9"/>
<line x1="186.1" y1="42.5" x2="186.1" y2="44.0" stroke="#1010fa" stroke-width="0.9"/>
<line x1="186.1" y1="45.9" x2="186.1" y2="49.5" stroke="#1010fa" stroke-width="0.9"/>
<rect x="185.3" y="44.0" width="1.5" height="1.9" fill="#1010fa" fill-opacity="0.35" stroke="#1010fa" stroke-width="0.9"/>
<line x1="188.5" y1="40.9" x2="188.5" y2="46.0" stroke="#1010fa" stroke-width="0.9"/>
<line x1="188.5" y1="47.0" x2="188.5" y2="48.2" stroke="#1010fa" stroke-width="0.9"/>
<rect x="187.7" y="46.0" width="1.5" height="1.0" fill="#1010fa" fill-opacity="0.35" stroke="#1010fa" stroke-width="0.9"/>
<line x1="190.9" y1="44.6" x2="190.9" y2="47.6" stroke="#1010fa" stroke-width="0.9"/>
<line x1="190.9" y1="55.7" x2="190.9" y2="59.9" stroke="#1010fa" stroke-width="0.9"/>
<rect x="190.2" y="47.6" width="1.5" height="8.1" fill="#1010fa" fill-opacity="0.35" stroke="#1010fa" stroke-width="0.9"/>
<line x1="193.3" y1="55.0" x2="193.3" y2="55.6" stroke="#1010fa" stroke-width="0.9"/>
<line x1="193.3" y1="63.0" x2="193.3" y2="66.4" stroke="#1010fa" stroke-width="0.9"/>
<rect x="192.6" y="55.6" width="1.5" height="7.5" fill="#1010fa" fill-opacity="0.35" stroke="#1010fa" stroke-width="0.9"/>
<line x1="195.8" y1="54.9" x2="195.8" y2="61.3" stroke="#1010fa" stroke-width="0.9"/>
<line x1="195.8" y1="82.5" x2="195.8" y2="86.6" stroke="#1010fa" stroke-width="0.9"/>
<rect x="195.0" y="61.3" width="1.5" height="21.3" fill="#1010fa" fill-opacity="0.35" stroke="#1010fa" stroke-width="0.9"/>
<line x1="198.2" y1="77.7" x2="198.2" y2="82.1" stroke="#1010fa" stroke-width="0.9"/>
<line x1="198.2" y1="94.6" x2="198.2" y2="96.2" stroke="#1010fa" stroke-width="0.9"/>
<rect x="197.4" y="82.1" width="1.5" height="12.5" fill="#1010fa" fill-opacity="0.35" stroke="#1010fa" stroke-width="0.9"/>
<line x1="200.6" y1="88.2" x2="200.6" y2="94.2" stroke="#1010fa" stroke-width="0.9"/>
<line x1="200.6" y1="105.2" x2="200.6" y2="108.1" stroke="#1010fa" stroke-width="0.9"/>
<rect x="199.8" y="94.2" width="1.5" height="11.0" fill="#1010fa" fill-opacity="0.35" stroke="#1010fa" stroke-width="0.9"/>
<line x1="203.0" y1="101.7" x2="203.0" y2="103.2" stroke="#1010fa" stroke-width="0.9"/>
<line x1="203.0" y1="104.2" x2="203.0" y2="106.3" stroke="#1010fa" stroke-width="0.9"/>
<rect x="202.3" y="103.2" width="1.5" height="1.0" fill="#1010fa" fill-opacity="0.35" stroke="#1010fa" stroke-width="0.9"/>
<line x1="205.4" y1="86.4" x2="205.4" y2="89.8" stroke="#fa1414" stroke-width="0.9"/>
<line x1="205.4" y1="102.7" x2="205.4" y2="106.8" stroke="#fa1414" stroke-width="0.9"/>
<rect x="204.7" y="89.8" width="1.5" height="12.9" fill="#fa1414" fill-opacity="0.35" stroke="#fa1414" stroke-width="0.9"/>
<line x1="207.9" y1="73.5" x2="207.9" y2="82.1" stroke="#fa1414" stroke-width="0.9"/>
<line x1="207.9" y1="91.5" x2="207.9" y2="92.9" stroke="#fa1414" stroke-width="0.9"/>
<rect x="207.1" y="82.1" width="1.5" height="9.4" fill="#fa1414" fill-opacity="0.35" stroke="#fa1414" stroke-width="0.9"/>
<line x1="210.3" y1="64.5" x2="210.3" y2="67.7" stroke="#fa1414" stroke-width="0.9"/>
<line x1="210.3" y1="81.8" x2="210.3" y2="88.1" stroke="#fa1414" stroke-width="0.9"/>
<rect x="209.5" y="67.7" width="1.5" height="14.1" fill="#fa1414" fill-opacity="0.35" stroke="#fa1414" stroke-width="0.9"/>
<line x1="212.7" y1="59.2" x2="212.7" y2="62.4" stroke="#fa1414" stroke-width="0.9"/>
<line x1="212.7" y1="67.1" x2="212.7" y2="69.1" stroke="#fa1414" stroke-width="0.9"/>
<rect x="211.9" y="62.4" width="1.5" height="4.7" fill="#fa1414" fill-opacity="0.35" stroke="#fa1414" stroke-width="0.9"/>
<line x1="215.1" y1="44.4" x2="215.1" y2="45.5" stroke="#fa1414" stroke-width="0.9"/>
<line x1="215.1" y1="61.9" x2="215.1" y2="62.4" stroke="#fa1414" stroke-width="0.9"/>
<rect x="214.4" y="45.5" width="1.5" height="16.4" fill="#fa1414" fill-opacity="0.35" stroke="#fa1414" stroke-width="0.9"/>
<line x1="217.5" y1="44.3" x2="217.5" y2="45.2" stroke="#1010fa" stroke-width="0.9"/>
<line x1="217.5" y1="49.5" x2="217.5" y2="51.6" stroke="#1010fa" stroke-width="0.9"/>
<rect x="216.8" y="45.2" width="1.5" height="4.2" fill="#1010fa" fill-opacity="0.35" stroke="#1010fa" stroke-width="0.9"/>
<line x1="220.0" y1="49.3" x2="220.0" y2="50.7" stroke="#1010fa" stroke-width="0.9"/>
<line x1="220.0" y1="56.5" x2="220.0" y2="58.2" stroke="#1010fa" stroke-width="0.9"/>
<rect x="219.2" y="50.7" width="1.5" height="5.7" fill="#1010fa" fill-opacity="0.35" stroke="#1010fa" stroke-width="0.9"/>
<line x1="222.4" y1="53.5" x2="222.4" y2="56.3" stroke="#1010fa" stroke-width="0.9"/>
<line x1="222.4" y1="63.1" x2="222.4" y2="67.4" stroke="#1010fa" stroke-width="0.9"/>
<rect x="221.6" y="56.3" width="1.5" height="6.8" fill="#1010fa" fill-opacity="0.35" stroke="#1010fa" stroke-width="0.9"/>
<line x1="224.8" y1="61.2" x2="224.8" y2="62.8" stroke="#1010fa" stroke-width="0.9"/>
<line x1="224.8" y1="76.0" x2="224.8" y2="76.8" stroke="#1010fa" stroke-width="0.9"/>
<rect x="224.0" y="62.8" width="1.5" height="13.2" fill="#1010fa" fill-opacity="0.35" stroke="#1010fa" stroke-width="0.9"/>
<line x1="227.2" y1="75.4" x2="227.2" y2="77.0" stroke="#1010fa" stroke-width="0.9"/>
<line x1="227.2" y1="80.9" x2="227.2" y2="86.0" stroke="#1010fa" stroke-width="0.9"/>
<rect x="226.5" y="77.0" width="1.5" height="3.9" fill="#1010fa" fill-opacity="0.35" stroke="#1010fa" stroke-width="0.9"/>
<line x1="229.6" y1="77.6" x2="229.6" y2="80.1" stroke="#1010fa" stroke-width="0.9"/>
<line x1="229.6" y1="88.1" x2="229.6" y2="91.7" stroke="#1010fa" stroke-width="0.9"/>
<rect x="228.9" y="80.1" width="1.5" height="8.0" fill="#1010fa" fill-opacity="0.35" stroke="#1010fa" stroke-width="0.9"/>
<line x1="232.1" y1="84.8" x2="232.1" y2="88.9" stroke="#1010fa" stroke-width="0.9"/>
<line x1="232.1" y1="98.5" x2="232.1" y2="104.3" stroke="#1010fa" stroke-width="0.9"/>
<rect x="231.3" y="88.9" width="1.5" height="9.7" fill="#1010fa" fill-opacity="0.35" stroke="#1010fa" stroke-width="0.9"/>
<line x1="234.5" y1="96.1" x2="234.5" y2="100.1" stroke="#1010fa" stroke-width="0.9"/>
<line x1="234.5" y1="109.5" x2="234.5" y2="110.7" stroke="#1010fa" stroke-width="0.9"/>
<rect x="233.7" y="100.1" width="1.5" height="9.4" fill="#1010fa" fill-opacity="0.35" stroke="#1010fa" stroke-width="0.9"/>
<line x1="236.9" y1="105.4" x2="236.9" y2="109.3" stroke="#1010fa" stroke-width="0.9"/>
<line x1="236.9" y1="114.3" x2="236.9" y2="115.4" stroke="#1010fa" stroke-width="0.9"/>
<rect x="236.1" y="109.3" width="1.5" height="5.0" fill="#1010fa" fill-opacity="0.35" stroke="#1010fa" stroke-width="0.9"/>
<line x1="239.3" y1="110.2" x2="239.3" y2="114.1" stroke="#1010fa" stroke-width="0.9"/>
<line x1="239.3" y1="119.1" x2="239.3" y2="120.2" stroke="#1010fa" stroke-width="0.9"/>
<rect x="238.6" y="114.1" width="1.5" height="4.9" fill="#1010fa" fill-opacity="0.35" stroke="#1010fa" stroke-width="0.9"/>
<line x1="241.7" y1="115.3" x2="241.7" y2="118.9" stroke="#fa1414" stroke-width="0.9"/>
<line x1="241.7" y1="119.9" x2="241.7" y2="121.7" stroke="#fa1414" stroke-width="0.9"/>
<rect x="241.0" y="118.9" width="1.5" height="1.0" fill="#fa1414" fill-opacity="0.35" stroke="#fa1414" stroke-width="0.9"/>
<line x1="244.2" y1="115.2" x2="244.2" y2="118.6" stroke="#1010fa" stroke-width="0.9"/>
<line x1="244.2" y1="121.4" x2="244.2" y2="122.5" stroke="#1010fa" stroke-width="0.9"/>
<rect x="243.4" y="118.6" width="1.5" height="2.8" fill="#1010fa" fill-opacity="0.35" stroke="#1010fa" stroke-width="0.9"/>
<line x1="246.6" y1="119.0" x2="246.6" y2="119.8" stroke="#fa1414" stroke-width="0.9"/>
<line x1="246.6" y1="120.9" x2="246.6" y2="124.6" stroke="#fa1414" stroke-width="0.9"/>
<rect x="245.8" y="119.8" width="1.5" height="1.0" fill="#fa1414" fill-opacity="0.35" stroke="#fa1414" stroke-width="0.9"/>
<line x1="249.0" y1="106.4" x2="249.0" y2="109.4" stroke="#fa1414" stroke-width="0.9"/>
<line x1="249.0" y1="120.5" x2="249.0" y2="126.8" stroke="#fa1414" stroke-width="0.9"/>
<rect x="248.2" y="109.4" width="1.5" height="11.1" fill="#fa1414" fill-opacity="0.35" stroke="#fa1414" stroke-width="0.9"/>
<line x1="251.4" y1="104.1" x2="251.4" y2="106.0" stroke="#fa1414" stroke-width="0.9"/>
<line x1="251.4" y1="109.5" x2="251.4" y2="113.8" stroke="#fa1414" stroke-width="0.9"/>
<rect x="250.7" y="106.0" width="1.5" height="3.4" fill="#fa1414" fill-opacity="0.35" stroke="#fa1414" stroke-width="0.9"/>
<line x1="253.8" y1="105.3" x2="253.8" y2="105.8" stroke="#1010fa" stroke-width="0.9"/>
<line x1="253.8" y1="120.9" x2="253.8" y2="121.9" stroke="#1010fa" stroke-width="0.9"/>
<rect x="253.1" y="105.8" width="1.5" height="15.1" fill="#1010fa" fill-opacity="0.35" stroke="#1010fa" stroke-width="0.9"/>
<line x1="256.3" y1="120.1" x2="256.3" y2="121.5" stroke="#1010fa" stroke-width="0.9"/>
<line x1="256.3" y1="125.4" x2="256.3" y2="128.2" stroke="#1010fa" stroke-width="0.9"/>
<rect x="255.5" y="121.5" width="1.5" height="3.9" fill="#1010fa" fill-opacity="0.35" stroke="#1010fa" stroke-width="0.9"/>
<line x1="258.7" y1="115.2" x2="258.7" y2="119.4" stroke="#fa1414" stroke-width="0.9"/>
<line x1="258.7" y1="126.3" x2="258.7" y2="129.7" stroke="#fa1414" stroke-width="0.9"/>
<rect x="257.9" y="119.4" width="1.5" height="6.9" fill="#fa1414" fill-opacity="0.35" stroke="#fa1414" stroke-width="0.9"/>
<line x1="261.1" y1="112.0" x2="261.1" y2="112.4" stroke="#fa1414" stroke-width="0.9"/>
<line x1="261.1" y1="120.1" x2="261.1" y2="122.5" stroke="#fa1414" stroke-width="0.9"/>
<rect x="260.4" y="112.4" width="1.5" height="7.7" fill="#fa1414" fill-opacity="0.35" stroke="#fa1414" stroke-width="0.9"/>
<line x1="263.5" y1="99.9" x2="263.5" y2="102.5" stroke="#fa1414" stroke-width="0.9"/>
<line x1="263.5" y1="112.2" x2="263.5" y2="114.8" stroke="#fa1414" stroke-width="0.9"/>
<rect x="262.8" y="102.5" width="1.5" height="9.7" fill="#fa1414" fill-opacity="0.35" stroke="#fa1414" stroke-width="0.9"/>
<line x1="265.9" y1="100.8" x2="265.9" y2="102.4" stroke="#1010fa" stroke-width="0.9"/>
<line x1="265.9" y1="106.3" x2="265.9" y2="110.7" stroke="#1010fa" stroke-width="0.9"/>
<rect x="265.2" y="102.4" width="1.5" height="3.9" fill="#1010fa" fill-opacity="0.35" stroke="#1010fa" stroke-width="0.9"/>
<line x1="268.4" y1="102.6" x2="268.4" y2="105.5" stroke="#1010fa" stroke-width="0.9"/>
<line x1="268.4" y1="106.7" x2="268.4" y2="110.4" stroke="#1010fa" stroke-width="0.9"/>
<rect x="267.6" y="105.5" width="1.5" height="1.2" fill="#1010fa" fill-opacity="0.35" stroke="#1010fa" stroke-width="0.9"/>
<line x1="270.8" y1="102.4" x2="270.8" y2="105.2" stroke="#fa1414" stroke-width="0.9"/>
<line x1="270.8" y1="106.2" x2="270.8" y2="112.6" stroke="#fa1414" stroke-width="0.9"/>
<rect x="270.0" y="105.2" width="1.5" height="1.0" fill="#fa1414" fill-opacity="0.35" stroke="#fa1414" stroke-width="0.9"/>
<line x1="273.2" y1="98.3" x2="273.2" y2="100.6" stroke="#fa1414" stroke-width="0.9"/>
<line x1="273.2" y1="105.8" x2="273.2" y2="107.2" stroke="#fa1414" stroke-width="0.9"/>
<rect x="272.4" y="100.6" width="1.5" height="5.2" fill="#fa1414" fill-opacity="0.35" stroke="#fa1414" stroke-width="0.9"/>
<line x1="275.6" y1="98.7" x2="275.6" y2="100.6" stroke="#1010fa" stroke-width="0.9"/>
<line x1="275.6" y1="110.5" x2="275.6" y2="112.6" stroke="#1010fa" stroke-width="0.9"/>
<rect x="274.9" y="100.6" width="1.5" height="10.0" fill="#1010fa" fill-opacity="0.35" stroke="#1010fa" stroke-width="0.9"/>
<line x1="278.0" y1="104.9" x2="278.0" y2="109.9" stroke="#1010fa" stroke-width="0.9"/>
<line x1="278.0" y1="118.8" x2="278.0" y2="122.4" stroke="#1010fa" stroke-width="0.9"/>
<rect x="277.3" y="109.9" width="1.5" height="8.9" fill="#1010fa" fill-opacity="0.35" stroke="#1010fa" stroke-width="0.9"/>
<line x1="280.5" y1="117.0" x2="280.5" y2="119.5" stroke="#1010fa" stroke-width="0.9"/>
<line x1="280.5" y1="126.4" x2="280.5" y2="129.0" stroke="#1010fa" stroke-width="0.9"/>
<rect x="279.7" y="119.5" width="1.5" height="6.9" fill="#1010fa" fill-opacity="0.35" stroke="#1010fa" stroke-width="0.9"/>
<line x1="282.9" y1="124.5" x2="282.9" y2="126.3" stroke="#1010fa" stroke-width="0.9"/>
<line x1="282.9" y1="128.4" x2="282.9" y2="133.1" stroke="#1010fa" stroke-width="0.9"/>
<rect x="282.1" y="126.3" width="1.5" height="2.1" fill="#1010fa" fill-opacity="0.35" stroke="#1010fa" stroke-width="0.9"/>
<line x1="285.3" y1="118.1" x2="285.3" y2="121.1" stroke="#fa1414" stroke-width="0.9"/>
<line x1="285.3" y1="127.2" x2="285.3" y2="130.0" stroke="#fa1414" stroke-width="0.9"/>
<rect x="284.6" y="121.1" width="1.5" height="6.1" fill="#fa1414" fill-opacity="0.35" stroke="#fa1414" stroke-width="0.9"/>
<line x1="287.7" y1="101.4" x2="287.7" y2="102.6" stroke="#fa1414" stroke-width="0.9"/>
<line x1="287.7" y1="120.2" x2="287.7" y2="122.3" stroke="#fa1414" stroke-width="0.9"/>
<rect x="287.0" y="102.6" width="1.5" height="17.6" fill="#fa1414" fill-opacity="0.35" stroke="#fa1414" stroke-width="0.9"/>
<line x1="290.1" y1="92.7" x2="290.1" y2="96.8" stroke="#fa1414" stroke-width="0.9"/>
<line x1="290.1" y1="102.7" x2="290.1" y2="104.0" stroke="#fa1414" stroke-width="0.9"/>
<rect x="289.4" y="96.8" width="1.5" height="5.9" fill="#fa1414" fill-opacity="0.35" stroke="#fa1414" stroke-width="0.9"/>
<line x1="292.6" y1="95.2" x2="292.6" y2="96.7" stroke="#1010fa" stroke-width="0.9"/>
<line x1="292.6" y1="99.1" x2="292.6" y2="101.0" stroke="#1010fa" stroke-width="0.9"/>
<rect x="291.8" y="96.7" width="1.5" height="2.3" fill="#1010fa" fill-opacity="0.35" stroke="#1010fa" stroke-width="0.9"/>
<line x1="295.0" y1="93.4" x2="295.0" y2="100.6" stroke="#1010fa" stroke-width="0.9"/>
<line x1="295.0" y1="123.6" x2="295.0" y2="124.4" stroke="#1010fa" stroke-width="0.9"/>
<rect x="294.2" y="100.6" width="1.5" height="23.0" fill="#1010fa" fill-opacity="0.35" stroke="#1010fa" stroke-width="0.9"/>
<line x1="297.4" y1="120.1" x2="297.4" y2="123.7" stroke="#1010fa" stroke-width="0.9"/>
<line x1="297.4" y1="146.6" x2="297.4" y2="148.0" stroke="#1010fa" stroke-width="0.9"/>
<rect x="296.6" y="123.7" width="1.5" height="22.9" fill="#1010fa" fill-opacity="0.35" stroke="#1010fa" stroke-width="0.9"/>
<line x1="299.8" y1="141.9" x2="299.8" y2="145.9" stroke="#1010fa" stroke-width="0.9"/>
<line x1="299.8" y1="162.7" x2="299.8" y2="163.8" stroke="#1010fa" stroke-width="0.9"/>
<rect x="299.1" y="145.9" width="1.5" height="16.8" fill="#1010fa" fill-opacity="0.35" stroke="#1010fa" stroke-width="0.9"/>
<line x1="302.2" y1="158.1" x2="302.2" y2="163.1" stroke="#1010fa" stroke-width="0.9"/>
<line x1="302.2" y1="165.6" x2="302.2" y2="166.4" stroke="#1010fa" stroke-width="0.9"/>
<rect x="301.5" y="163.1" width="1.5" height="2.5" fill="#1010fa" fill-opacity="0.35" stroke="#1010fa" stroke-width="0.9"/>
<line x1="304.7" y1="160.0" x2="304.7" y2="165.2" stroke="#1010fa" stroke-width="0.9"/>
<line x1="304.7" y1="166.1" x2="304.7" y2="167.9" stroke="#1010fa" stroke-width="0.9"/>
<rect x="303.9" y="165.2" width="1.5" height="1.0" fill="#1010fa" fill-opacity="0.35" stroke="#1010fa" stroke-width="0.9"/>
<line x1="307.1" y1="151.9" x2="307.1" y2="154.1" stroke="#fa1414" stroke-width="0.9"/>
<line x1="307.1" y1="166.4" x2="307.1" y2="169.9" stroke="#fa1414" stroke-width="0.9"/>
<rect x="306.3" y="154.1" width="1.5" height="12.3" fill="#fa1414" fill-opacity="0.35" stroke="#fa1414" stroke-width="0.9"/>
<line x1="309.5" y1="148.7" x2="309.5" y2="150.6" stroke="#fa1414" stroke-width="0.9"/>
<line x1="309.5" y1="154.3" x2="309.5" y2="159.1" stroke="#fa1414" stroke-width="0.9"/>
<rect x="308.8" y="150.6" width="1.5" height="3.7" fill="#fa1414" fill-opacity="0.35" stroke="#fa1414" stroke-width="0.9"/>
<line x1="311.9" y1="141.0" x2="311.9" y2="144.7" stroke="#fa1414" stroke-width="0.9"/>
<line x1="311.9" y1="149.7" x2="311.9" y2="152.3" stroke="#fa1414" stroke-width="0.9"/>
<rect x="311.2" y="144.7" width="1.5" height="4.9" fill="#fa1414" fill-opacity="0.35" stroke="#fa1414" stroke-width="0.9"/>
<line x1="314.3" y1="137.4" x2="314.3" y2="138.5" stroke="#fa1414" stroke-width="0.9"/>
<line x1="314.3" y1="144.7" x2="314.3" y2="147.3" stroke="#fa1414" stroke-width="0.9"/>
<rect x="313.6" y="138.5" width="1.5" height="6.1" fill="#fa1414" fill-opacity="0.35" stroke="#fa1414" stroke-width="0.9"/>
<line x1="316.8" y1="136.4" x2="316.8" y2="137.8" stroke="#1010fa" stroke-width="0.9"/>
<line x1="316.8" y1="149.4" x2="316.8" y2="155.2" stroke="#1010fa" stroke-width="0.9"/>
<rect x="316.0" y="137.8" width="1.5" height="11.6" fill="#1010fa" fill-opacity="0.35" stroke="#1010fa" stroke-width="0.9"/>
<line x1="319.2" y1="133.1" x2="319.2" y2="136.8" stroke="#fa1414" stroke-width="0.9"/>
<line x1="319.2" y1="150.4" x2="319.2" y2="154.0" stroke="#fa1414" stroke-width="0.9"/>
<rect x="318.4" y="136.8" width="1.5" height="13.6" fill="#fa1414" fill-opacity="0.35" stroke="#fa1414" stroke-width="0.9"/>
<line x1="321.6" y1="127.5" x2="321.6" y2="131.8" stroke="#fa1414" stroke-width="0.9"/>
<line x1="321.6" y1="135.4" x2="321.6" y2="138.5" stroke="#fa1414" stroke-width="0.9"/>
<rect x="320.8" y="131.8" width="1.5" height="3.6" fill="#fa1414" fill-opacity="0.35" stroke="#fa1414" stroke-width="0.9"/>
<line x1="324.0" y1="123.6" x2="324.0" y2="124.4" stroke="#fa1414" stroke-width="0.9"/>
<line x1="324.0" y1="132.2" x2="324.0" y2="132.7" stroke="#fa1414" stroke-width="0.9"/>
<rect x="323.3" y="124.4" width="1.5" height="7.7" fill="#fa1414" fill-opacity="0.35" stroke="#fa1414" stroke-width="0.9"/>
<line x1="326.4" y1="123.2" x2="326.4" y2="124.4" stroke="#fa1414" stroke-width="0.9"/>
<line x1="326.4" y1="125.4" x2="326.4" y2="133.0" stroke="#fa1414" stroke-width="0.9"/>
<rect x="325.7" y="124.4" width="1.5" height="1.0" fill="#fa1414" fill-opacity="0.35" stroke="#fa1414" stroke-width="0.9"/>
<line x1="328.9" y1="121.2" x2="328.9" y2="123.7" stroke="#1010fa" stroke-width="0.9"/>
<line x1="328.9" y1="134.2" x2="328.9" y2="137.9" stroke="#1010fa" stroke-width="0.9"/>
<rect x="328.1" y="123.7" width="1.5" height="10.5" fill="#1010fa" fill-opacity="0.35" stroke="#1010fa" stroke-width="0.9"/>
<line x1="331.3" y1="129.4" x2="331.3" y2="134.1" stroke="#1010fa" stroke-width="0.9"/>
<line x1="331.3" y1="137.9" x2="331.3" y2="138.3" stroke="#1010fa" stroke-width="0.9"/>
<rect x="330.5" y="134.1" width="1.5" height="3.8" fill="#1010fa" fill-opacity="0.35" stroke="#1010fa" stroke-width="0.9"/>
<line x1="333.7" y1="135.5" x2="333.7" y2="136.5" stroke="#1010fa" stroke-width="0.9"/>
<line x1="333.7" y1="140.9" x2="333.7" y2="141.4" stroke="#1010fa" stroke-width="0.9"/>
<rect x="332.9" y="136.5" width="1.5" height="4.4" fill="#1010fa" fill-opacity="0.35" stroke="#1010fa" stroke-width="0.9"/>
<line x1="336.1" y1="139.5" x2="336.1" y2="140.0" stroke="#1010fa" stroke-width="0.9"/>
<line x1="336.1" y1="143.0" x2="336.1" y2="146.5" stroke="#1010fa" stroke-width="0.9"/>
<rect x="335.4" y="140.0" width="1.5" height="3.1" fill="#1010fa" fill-opacity="0.35" stroke="#1010fa" stroke-width="0.9"/>
<line x1="338.5" y1="141.8" x2="338.5" y2="143.2" stroke="#1010fa" stroke-width="0.9"/>
<line x1="338.5" y1="153.2" x2="338.5" y2="154.6" stroke="#1010fa" stroke-width="0.9"/>
<rect x="337.8" y="143.2" width="1.5" height="10.0" fill="#1010fa" fill-opacity="0.35" stroke="#1010fa" stroke-width="0.9"/>
<line x1="341.0" y1="146.8" x2="341.0" y2="150.6" stroke="#fa1414" stroke-width="0.9"/>
<line x1="341.0" y1="155.0" x2="341.0" y2="156.5" stroke="#fa1414" stroke-width="0.9"/>
<rect x="340.2" y="150.6" width="1.5" height="4.5" fill="#fa1414" fill-opacity="0.35" stroke="#fa1414" stroke-width="0.9"/>
<line x1="343.4" y1="141.8" x2="343.4" y2="146.5" stroke="#fa1414" stroke-width="0.9"/>
<line x1="343.4" y1="150.3" x2="343.4" y2="150.9" stroke="#fa1414" stroke-width="0.9"/>
<rect x="342.6" y="146.5" width="1.5" height="3.9" fill="#fa1414" fill-opacity="0.35" stroke="#fa1414" stroke-width="0.9"/>
<line x1="345.8" y1="124.8" x2="345.8" y2="129.3" stroke="#fa1414" stroke-width="0.9"/>
<line x1="345.8" y1="146.2" x2="345.8" y2="149.5" stroke="#fa1414" stroke-width="0.9"/>
<rect x="345.0" y="129.3" width="1.5" height="16.9" fill="#fa1414" fill-opacity="0.35" stroke="#fa1414" stroke-width="0.9"/>
<line x1="348.2" y1="125.3" x2="348.2" y2="127.6" stroke="#fa1414" stroke-width="0.9"/>
<line x1="348.2" y1="129.9" x2="348.2" y2="133.1" stroke="#fa1414" stroke-width="0.9"/>
<rect x="347.5" y="127.6" width="1.5" height="2.3" fill="#fa1414" fill-opacity="0.35" stroke="#fa1414" stroke-width="0.9"/>
<line x1="350.6" y1="124.1" x2="350.6" y2="125.3" stroke="#fa1414" stroke-width="0.9"/>
<line x1="350.6" y1="128.4" x2="350.6" y2="129.5" stroke="#fa1414" stroke-width="0.9"/>
<rect x="349.9" y="125.3" width="1.5" height="3.1" fill="#fa1414" fill-opacity="0.35" stroke="#fa1414" stroke-width="0.9"/>
<line x1="353.1" y1="120.6" x2="353.1" y2="125.0" stroke="#1010fa" stroke-width="0.9"/>
<line x1="353.1" y1="126.3" x2="353.1" y2="127.4" stroke="#1010fa" stroke-width="0.9"/>
<rect x="352.3" y="125.0" width="1.5" height="1.3" fill="#1010fa" fill-opacity="0.35" stroke="#1010fa" stroke-width="0.9"/>
<line x1="308.0" y1="153.5" x2="308.0" y2="172.4" stroke="#fa1414" stroke-width="1.1"/>
<line x1="315.0" y1="139.3" x2="315.0" y2="174.3" stroke="#1010fa" stroke-width="1.1"/>
<line x1="178.3" y1="10.5" x2="178.3" y2="22.0" stroke="#fa1414" stroke-width="1"/>
<line x1="221.0" y1="44.0" x2="221.0" y2="60.0" stroke="#1010fa" stroke-width="1"/>
<polyline points="2.8,169.0 18.9,167.7 34.0,166.3 49.1,164.8 64.3,162.9 82.9,159.5 96.2,156.0 109.4,153.0 120.7,149.2 132.1,143.7 140.0,140.0 151.2,133.9 171.4,122.0 181.4,113.0 190.0,107.1 201.3,100.5 212.7,93.9 224.0,89.1 235.4,85.4 246.7,83.1 261.8,81.6 277.0,80.6 291.3,80.6 302.7,81.7 314.0,83.6 325.4,85.5 336.7,88.4 346.2,92.1 353.7,95.0" fill="none" stroke="#a03410" stroke-width="2.0" stroke-linejoin="round" stroke-dasharray="1.8 2.0"/>
<polyline points="2.8,176.2 60.0,176.3 110.9,176.5 136.0,174.2 161.3,169.1 186.5,162.8 220.0,156.5 245.2,152.3 270.4,149.0 295.6,146.5 320.8,145.0 351.0,143.6" fill="none" stroke="#080808" stroke-width="1.9" stroke-linejoin="round" stroke-dasharray="1.8 2.2"/>
<polyline points="3.0,177.0 60.0,176.8 120.0,176.5 180.0,175.8 220.0,174.3 245.0,172.6 262.0,173.2 282.0,173.3 305.0,174.6 327.0,176.2 353.0,176.5" fill="none" stroke="#861686" stroke-width="3.0" stroke-linejoin="round" stroke-dasharray="2.8 2.6"/>
<polyline points="2.8,182.8 11.3,182.8 15.1,179.0 22.7,177.1 30.2,175.2 37.8,170.5 46.0,160.0 52.7,153.2 60.2,145.6 67.8,139.0 75.4,130.5 82.9,124.8 90.5,120.1 98.0,117.3 105.6,115.4 113.2,107.8 120.7,99.3 128.3,90.8 135.9,80.4 142.9,70.1 150.5,60.6 158.0,53.1 165.6,46.5 173.2,40.8 178.8,38.5 188.3,38.5 193.8,40.0 201.3,45.7 208.9,52.3 216.5,58.9 224.0,64.6 231.6,71.2 239.1,80.6 246.7,88.2 254.3,92.0 261.8,98.6 269.4,106.2 277.0,111.8 284.5,115.6 292.1,116.6 298.9,114.8 304.6,120.5 312.1,124.3 317.8,130.0 325.4,134.7 331.0,135.6 336.7,139.4 342.4,143.2 348.0,143.2 354.7,140.3" fill="none" stroke="#ff0a0a" stroke-width="2.1" stroke-linejoin="round"/>
<polyline points="2.8,170.5 11.3,170.1 18.9,170.5 26.5,173.3 34.0,174.3 41.6,172.4 49.1,169.5 56.7,167.7 68.0,165.8 79.4,161.0 86.7,158.5 96.2,153.2 105.6,149.4 115.1,142.8 124.5,134.3 132.1,126.7 141.0,118.0 151.0,107.0 162.0,97.5 173.0,88.0 184.5,80.0 192.0,76.0 200.0,73.0 208.9,70.2 218.4,66.5 227.8,63.6 235.4,62.7 246.7,63.6 258.0,66.5 269.4,70.2 280.0,75.1 289.5,79.8 298.9,83.6 308.4,91.2 317.8,99.7 327.3,107.3 336.7,112.9 346.2,116.3 354.7,118.2" fill="none" stroke="#000" stroke-width="2.1" stroke-linejoin="round"/>
<polyline points="2.8,182.8 7.6,176.2 13.2,170.5 18.0,165.8 22.7,171.4 28.4,173.3 33.0,166.0 36.6,147.5 39.5,132.4 42.3,122.9 45.1,126.7 48.9,129.5 53.6,126.7 56.5,122.9 59.3,118.2 63.1,124.8 66.9,130.5 70.6,129.5 73.5,122.9 76.3,113.5 80.1,112.5 83.9,114.4 86.7,117.3 90.5,120.1 93.3,105.9 95.2,99.3 98.0,105.9 101.8,110.6 105.6,106.9 108.4,104.0 111.3,94.6 114.1,81.3 117.0,72.8 119.8,66.0 124.0,70.1 127.8,57.8 131.6,40.8 134.4,35.1 137.3,40.8 142.0,47.4 146.7,42.7 150.0,38.5 152.7,44.6 155.5,57.0 158.2,57.5 163.0,43.0 166.4,32.0 168.4,33.0 171.9,33.5 174.6,26.0 179.4,21.4 181.4,28.2 184.8,41.9 186.9,51.0 189.6,44.6 191.7,46.0 195.1,54.2 197.8,63.0 200.4,75.0 204.2,91.0 207.0,96.7 210.8,87.3 214.6,75.9 218.4,64.6 221.2,53.2 224.0,58.9 227.8,68.4 231.6,77.8 235.4,91.0 238.2,100.5 242.0,111.8 245.8,117.5 249.5,119.4 253.3,112.8 256.2,110.0 259.0,117.5 262.8,121.3 265.6,113.7 268.4,108.0 273.2,109.0 277.0,106.2 279.8,105.2 282.6,113.7 286.6,126.2 290.4,116.7 294.2,105.4 298.0,110.0 299.8,121.3 301.7,134.6 303.6,145.9 305.5,155.4 308.4,161.0 311.2,157.3 314.0,149.7 315.9,145.0 318.8,145.0 322.5,144.0 326.3,136.5 329.1,128.0 332.0,130.8 334.8,137.4 337.7,140.2 340.5,142.1 343.3,146.9 346.2,145.9 349.0,142.1 350.9,132.7 352.8,127.0 354.7,128.0" fill="none" stroke="#0a0aff" stroke-width="1.8" stroke-linejoin="round"/>
</g>
<g clip-path="url(#cTR)">
<line x1="463.5" y1="10.6" x2="463.5" y2="37.3" stroke="#e82020" stroke-width="1.2"/>
<line x1="463.5" y1="96.3" x2="463.5" y2="114.7" stroke="#e82020" stroke-width="1.2"/>
<rect x="444.0" y="37.3" width="38.9" height="59.0" fill="none" stroke="#e82020" stroke-width="1.3"/>
<line x1="504.0" y1="36.0" x2="504.0" y2="37.3" stroke="#1a1af0" stroke-width="1.2"/>
<line x1="504.0" y1="123.5" x2="504.0" y2="185.0" stroke="#1a1af0" stroke-width="1.2"/>
<rect x="484.4" y="37.3" width="40.3" height="86.2" fill="none" stroke="#1a1af0" stroke-width="1.3"/>
<line x1="545.4" y1="61.0" x2="545.4" y2="68.5" stroke="#e82020" stroke-width="1.2"/>
<line x1="545.4" y1="123.5" x2="545.4" y2="144.5" stroke="#e82020" stroke-width="1.2"/>
<rect x="526.5" y="68.5" width="39.5" height="55.0" fill="none" stroke="#e82020" stroke-width="1.3"/>
<line x1="587.2" y1="46.0" x2="587.2" y2="48.3" stroke="#e82020" stroke-width="1.2"/>
<line x1="587.2" y1="69.6" x2="587.2" y2="95.3" stroke="#e82020" stroke-width="1.2"/>
<rect x="567.5" y="48.3" width="39.5" height="21.3" fill="none" stroke="#e82020" stroke-width="1.3"/>
<line x1="628.4" y1="24.4" x2="628.4" y2="47.4" stroke="#1a1af0" stroke-width="1.2"/>
<line x1="628.4" y1="58.4" x2="628.4" y2="71.0" stroke="#1a1af0" stroke-width="1.2"/>
<rect x="608.6" y="47.4" width="39.9" height="11.0" fill="none" stroke="#1a1af0" stroke-width="1.3"/>
<line x1="669.3" y1="45.8" x2="669.3" y2="58.2" stroke="#1a1af0" stroke-width="1.2"/>
<line x1="669.3" y1="60.6" x2="669.3" y2="81.4" stroke="#1a1af0" stroke-width="1.2"/>
<rect x="650.4" y="58.2" width="39.3" height="2.4" fill="none" stroke="#1a1af0" stroke-width="1.3"/>
<line x1="710.7" y1="45.4" x2="710.7" y2="55.2" stroke="#e82020" stroke-width="1.2"/>
<line x1="710.7" y1="59.6" x2="710.7" y2="68.5" stroke="#e82020" stroke-width="1.2"/>
<rect x="691.0" y="55.2" width="40.3" height="4.4" fill="none" stroke="#e82020" stroke-width="1.3"/>
<line x1="752.4" y1="38.8" x2="752.4" y2="51.3" stroke="#e82020" stroke-width="1.2"/>
<line x1="752.4" y1="55.3" x2="752.4" y2="58.7" stroke="#e82020" stroke-width="1.2"/>
<rect x="732.5" y="51.3" width="40.1" height="4.0" fill="none" stroke="#e82020" stroke-width="1.3"/>
<line x1="774.1" y1="51.0" x2="814.1" y2="51.0" stroke="#f01010" stroke-width="2"/>
<polyline points="545.9,144.7 560.0,138.0 580.0,127.5 594.5,120.0 620.0,110.0 640.0,102.0 657.0,95.8 675.6,90.0 690.0,86.0 710.0,80.4 720.0,77.8 734.7,73.4 749.4,69.7 764.1,66.8 778.8,65.3 789.1,63.5" fill="none" stroke="#ff5f0a" stroke-width="2.1" stroke-linejoin="round" stroke-dasharray="1.8 1.8"/>
<polyline points="463.5,118.0 505.0,103.3 543.0,84.4 585.7,71.8 612.6,67.8 628.4,64.0 640.3,65.9 650.4,67.2 669.3,70.3 690.7,62.1 710.0,58.4 731.0,57.0 773.0,55.5 793.0,54.5" fill="none" stroke="#111" stroke-width="1.0" stroke-linejoin="round"/>
<polyline points="463.5,97.0 505.0,55.0 545.4,88.2 585.7,87.0 598.0,78.0 607.6,68.4 616.4,63.4 628.4,54.3 648.5,54.3 659.2,55.8 669.3,56.5" fill="none" stroke="#15156e" stroke-width="1.1" stroke-linejoin="round" stroke-dasharray="3 2.4"/>
<polyline points="463.5,112.1 505.0,64.8 544.1,83.2 585.7,80.6 600.0,74.7 628.4,65.3 650.4,59.6 669.3,56.7 690.7,56.5 710.0,56.2 732.5,56.3 749.4,55.3 767.0,55.5 778.8,55.0 793.5,53.8" fill="none" stroke="#000" stroke-width="2.25" stroke-linejoin="miter"/>
<polyline points="780.3,53.2 793.5,52.4" fill="none" stroke="#000" stroke-width="1.2" stroke-linejoin="round" stroke-dasharray="2.5 1.5"/>
<path d="M792.4,57.2 L800.6,79.3 L794.4,79.3 L794.4,89.6 L790.3,89.6 L790.3,79.3 L784.4,79.3 Z" fill="#ff1010"/>
<line x1="463.5" y1="10.6" x2="498.0" y2="10.6" stroke="#222" stroke-width="1"/>
<path d="M468.5,6.6 L463.8,10.6 L468.5,14.6" fill="none" stroke="#222" stroke-width="1"/>
<text x="498.7" y="14.0" font-family='"Liberation Sans", "NanumGothic", "Noto Sans CJK KR", sans-serif' font-size="10.3" font-weight="normal" fill="#e62626" text-anchor="start" textLength="104" lengthAdjust="spacingAndGlyphs" stroke="#e62626" stroke-width="0.3">최고가 : 2,881.69 (2007)</text>
<line x1="504.0" y1="185.0" x2="539.0" y2="185.0" stroke="#222" stroke-width="1"/>
<path d="M509,181 L504.3,185 L509,189" fill="none" stroke="#222" stroke-width="1"/>
<text x="539.0" y="188.3" font-family='"Liberation Sans", "NanumGothic", "Noto Sans CJK KR", sans-serif' font-size="10.3" font-weight="normal" fill="#2a2ae8" text-anchor="start" textLength="96.5" lengthAdjust="spacingAndGlyphs" stroke="#2a2ae8" stroke-width="0.3">최저가 : 949.72 (2008)</text>
</g>
<g clip-path="url(#cBL)">
<rect x="2.6" y="384.2" width="4.2" height="35.3" fill="none" stroke="#1010fa" stroke-width="1.2"/>
<line x1="9.5" y1="417.4" x2="9.5" y2="440.0" stroke="#1010fa" stroke-width="1.15"/>
<rect x="7.4" y="416.3" width="4.2" height="1.1" fill="none" stroke="#1010fa" stroke-width="1.2"/>
<line x1="16.0" y1="401.2" x2="16.0" y2="412.5" stroke="#fa1414" stroke-width="1.15"/>
<line x1="16.0" y1="416.3" x2="16.0" y2="417.5" stroke="#fa1414" stroke-width="1.15"/>
<rect x="13.9" y="412.5" width="4.2" height="3.8" fill="none" stroke="#fa1414" stroke-width="1.2"/>
<rect x="19.4" y="390.8" width="4.2" height="17.0" fill="none" stroke="#fa1414" stroke-width="1.2"/>
<rect x="24.9" y="388.9" width="4.2" height="35.0" fill="none" stroke="#1010fa" stroke-width="1.2"/>
<line x1="33.0" y1="427.7" x2="33.0" y2="441.8" stroke="#1010fa" stroke-width="1.15"/>
<rect x="30.9" y="414.4" width="4.2" height="13.3" fill="none" stroke="#1010fa" stroke-width="1.2"/>
<line x1="37.8" y1="426.5" x2="37.8" y2="439.0" stroke="#fa1414" stroke-width="1.15"/>
<rect x="35.7" y="424.8" width="4.2" height="1.7" fill="none" stroke="#fa1414" stroke-width="1.2"/>
<line x1="43.9" y1="405.0" x2="43.9" y2="421.0" stroke="#fa1414" stroke-width="1.15"/>
<line x1="43.9" y1="423.0" x2="43.9" y2="428.6" stroke="#fa1414" stroke-width="1.15"/>
<rect x="41.8" y="421.0" width="4.2" height="2.0" fill="none" stroke="#fa1414" stroke-width="1.2"/>
<line x1="49.4" y1="389.8" x2="49.4" y2="403.0" stroke="#1010fa" stroke-width="1.15"/>
<rect x="47.3" y="403.0" width="4.2" height="20.0" fill="none" stroke="#1010fa" stroke-width="1.2"/>
<line x1="54.6" y1="389.8" x2="54.6" y2="396.5" stroke="#fa1414" stroke-width="1.15"/>
<line x1="54.6" y1="416.3" x2="54.6" y2="418.2" stroke="#fa1414" stroke-width="1.15"/>
<rect x="52.5" y="396.5" width="4.2" height="19.8" fill="none" stroke="#fa1414" stroke-width="1.2"/>
<line x1="61.0" y1="388.9" x2="61.0" y2="391.7" stroke="#fa1414" stroke-width="1.15"/>
<line x1="61.0" y1="394.2" x2="61.0" y2="405.0" stroke="#fa1414" stroke-width="1.15"/>
<rect x="58.9" y="391.7" width="4.2" height="2.5" fill="none" stroke="#fa1414" stroke-width="1.2"/>
<line x1="66.3" y1="387.0" x2="66.3" y2="390.8" stroke="#1010fa" stroke-width="1.15"/>
<line x1="66.3" y1="400.2" x2="66.3" y2="410.6" stroke="#1010fa" stroke-width="1.15"/>
<rect x="64.2" y="390.8" width="4.2" height="9.4" fill="none" stroke="#1010fa" stroke-width="1.2"/>
<line x1="71.8" y1="420.7" x2="71.8" y2="424.8" stroke="#fa1414" stroke-width="1.15"/>
<rect x="69.7" y="397.4" width="4.2" height="23.3" fill="none" stroke="#fa1414" stroke-width="1.2"/>
<line x1="77.7" y1="400.2" x2="77.7" y2="421.0" stroke="#fa1414" stroke-width="1.15"/>
<rect x="75.6" y="397.4" width="4.2" height="2.8" fill="none" stroke="#fa1414" stroke-width="1.2"/>
<line x1="82.8" y1="385.0" x2="82.8" y2="388.9" stroke="#fa1414" stroke-width="1.15"/>
<line x1="82.8" y1="392.7" x2="82.8" y2="402.0" stroke="#fa1414" stroke-width="1.15"/>
<rect x="80.7" y="388.9" width="4.2" height="3.8" fill="none" stroke="#fa1414" stroke-width="1.2"/>
<line x1="89.3" y1="384.7" x2="89.3" y2="391.7" stroke="#1010fa" stroke-width="1.15"/>
<rect x="87.2" y="381.7" width="4.2" height="3.0" fill="none" stroke="#1010fa" stroke-width="1.2"/>
<rect x="92.6" y="371.9" width="4.2" height="15.1" fill="none" stroke="#fa1414" stroke-width="1.2"/>
<line x1="100.0" y1="363.0" x2="100.0" y2="367.0" stroke="#fa1414" stroke-width="1.15"/>
<line x1="100.0" y1="375.5" x2="100.0" y2="379.0" stroke="#fa1414" stroke-width="1.15"/>
<rect x="97.9" y="367.0" width="4.2" height="8.5" fill="none" stroke="#fa1414" stroke-width="1.2"/>
<line x1="106.0" y1="360.4" x2="106.0" y2="368.0" stroke="#1010fa" stroke-width="1.15"/>
<rect x="103.9" y="368.0" width="4.2" height="19.8" fill="none" stroke="#1010fa" stroke-width="1.2"/>
<line x1="111.3" y1="386.9" x2="111.3" y2="394.4" stroke="#fa1414" stroke-width="1.15"/>
<rect x="109.2" y="369.8" width="4.2" height="17.1" fill="none" stroke="#fa1414" stroke-width="1.2"/>
<rect x="114.9" y="362.3" width="4.2" height="8.5" fill="none" stroke="#fa1414" stroke-width="1.2"/>
<line x1="122.6" y1="354.7" x2="122.6" y2="361.3" stroke="#1010fa" stroke-width="1.15"/>
<line x1="122.6" y1="389.7" x2="122.6" y2="392.5" stroke="#1010fa" stroke-width="1.15"/>
<rect x="120.5" y="361.3" width="4.2" height="28.4" fill="none" stroke="#1010fa" stroke-width="1.2"/>
<line x1="128.2" y1="381.2" x2="128.2" y2="384.0" stroke="#fa1414" stroke-width="1.15"/>
<line x1="128.2" y1="397.3" x2="128.2" y2="405.8" stroke="#fa1414" stroke-width="1.15"/>
<rect x="126.1" y="384.0" width="4.2" height="13.3" fill="none" stroke="#fa1414" stroke-width="1.2"/>
<line x1="134.0" y1="372.7" x2="134.0" y2="375.5" stroke="#fa1414" stroke-width="1.15"/>
<rect x="131.9" y="375.5" width="4.2" height="9.5" fill="none" stroke="#fa1414" stroke-width="1.2"/>
<line x1="139.3" y1="373.6" x2="139.3" y2="375.5" stroke="#1010fa" stroke-width="1.15"/>
<rect x="137.2" y="375.5" width="4.2" height="29.3" fill="none" stroke="#1010fa" stroke-width="1.2"/>
<rect x="142.6" y="390.6" width="4.2" height="15.2" fill="none" stroke="#fa1414" stroke-width="1.2"/>
<line x1="150.5" y1="396.0" x2="150.5" y2="418.0" stroke="#1010fa" stroke-width="1.15"/>
<rect x="148.4" y="394.4" width="4.2" height="1.6" fill="none" stroke="#1010fa" stroke-width="1.2"/>
<line x1="155.4" y1="384.0" x2="155.4" y2="398.2" stroke="#1010fa" stroke-width="1.15"/>
<line x1="155.4" y1="401.0" x2="155.4" y2="407.7" stroke="#1010fa" stroke-width="1.15"/>
<rect x="153.3" y="398.2" width="4.2" height="2.8" fill="none" stroke="#1010fa" stroke-width="1.2"/>
<line x1="161.4" y1="386.9" x2="161.4" y2="395.4" stroke="#fa1414" stroke-width="1.15"/>
<line x1="161.4" y1="397.3" x2="161.4" y2="414.3" stroke="#fa1414" stroke-width="1.15"/>
<rect x="159.3" y="395.4" width="4.2" height="1.9" fill="none" stroke="#fa1414" stroke-width="1.2"/>
<line x1="167.4" y1="382.1" x2="167.4" y2="390.6" stroke="#1010fa" stroke-width="1.15"/>
<line x1="167.4" y1="397.3" x2="167.4" y2="404.8" stroke="#1010fa" stroke-width="1.15"/>
<rect x="165.3" y="390.6" width="4.2" height="6.7" fill="none" stroke="#1010fa" stroke-width="1.2"/>
<line x1="173.3" y1="415.2" x2="173.3" y2="422.8" stroke="#1010fa" stroke-width="1.15"/>
<rect x="171.2" y="394.4" width="4.2" height="20.8" fill="none" stroke="#1010fa" stroke-width="1.2"/>
<line x1="179.0" y1="390.6" x2="179.0" y2="394.4" stroke="#fa1414" stroke-width="1.15"/>
<line x1="179.0" y1="412.4" x2="179.0" y2="415.2" stroke="#fa1414" stroke-width="1.15"/>
<rect x="176.9" y="394.4" width="4.2" height="18.0" fill="none" stroke="#fa1414" stroke-width="1.2"/>
<rect x="182.3" y="384.6" width="4.2" height="14.4" fill="none" stroke="#fa1414" stroke-width="1.2"/>
<line x1="188.8" y1="383.0" x2="188.8" y2="388.0" stroke="#1010fa" stroke-width="1.15"/>
<line x1="188.8" y1="390.0" x2="188.8" y2="398.2" stroke="#1010fa" stroke-width="1.15"/>
<rect x="186.7" y="388.0" width="4.2" height="2.0" fill="none" stroke="#1010fa" stroke-width="1.2"/>
<rect x="193.9" y="351.9" width="4.2" height="33.1" fill="none" stroke="#fa1414" stroke-width="1.2"/>
<rect x="198.8" y="350.0" width="4.2" height="5.7" fill="none" stroke="#1010fa" stroke-width="1.2"/>
<line x1="206.8" y1="338.4" x2="206.8" y2="355.7" stroke="#1010fa" stroke-width="1.15"/>
<rect x="204.7" y="355.7" width="4.2" height="4.7" fill="none" stroke="#1010fa" stroke-width="1.2"/>
<line x1="212.0" y1="337.5" x2="212.0" y2="343.2" stroke="#fa1414" stroke-width="1.15"/>
<rect x="209.9" y="343.2" width="4.2" height="8.8" fill="none" stroke="#fa1414" stroke-width="1.2"/>
<rect x="215.6" y="335.6" width="4.2" height="9.4" fill="none" stroke="#fa1414" stroke-width="1.2"/>
<line x1="223.6" y1="329.0" x2="223.6" y2="334.7" stroke="#1010fa" stroke-width="1.15"/>
<rect x="221.5" y="334.7" width="4.2" height="9.3" fill="none" stroke="#1010fa" stroke-width="1.2"/>
<line x1="228.9" y1="315.8" x2="228.9" y2="319.5" stroke="#fa1414" stroke-width="1.15"/>
<line x1="228.9" y1="337.5" x2="228.9" y2="343.0" stroke="#fa1414" stroke-width="1.15"/>
<rect x="226.8" y="319.5" width="4.2" height="18.0" fill="none" stroke="#fa1414" stroke-width="1.2"/>
<line x1="234.9" y1="306.3" x2="234.9" y2="309.5" stroke="#fa1414" stroke-width="1.15"/>
<line x1="234.9" y1="315.2" x2="234.9" y2="320.5" stroke="#fa1414" stroke-width="1.15"/>
<rect x="232.8" y="309.5" width="4.2" height="5.7" fill="none" stroke="#fa1414" stroke-width="1.2"/>
<line x1="240.5" y1="278.9" x2="240.5" y2="294.0" stroke="#fa1414" stroke-width="1.15"/>
<line x1="240.5" y1="307.3" x2="240.5" y2="310.0" stroke="#fa1414" stroke-width="1.15"/>
<rect x="238.4" y="294.0" width="4.2" height="13.3" fill="none" stroke="#fa1414" stroke-width="1.2"/>
<rect x="243.7" y="288.0" width="4.2" height="11.7" fill="none" stroke="#fa1414" stroke-width="1.2"/>
<line x1="251.7" y1="302.5" x2="251.7" y2="308.2" stroke="#1010fa" stroke-width="1.15"/>
<rect x="249.6" y="288.0" width="4.2" height="14.5" fill="none" stroke="#1010fa" stroke-width="1.2"/>
<line x1="257.1" y1="304.4" x2="257.1" y2="311.4" stroke="#fa1414" stroke-width="1.15"/>
<rect x="255.0" y="278.5" width="4.2" height="25.9" fill="none" stroke="#fa1414" stroke-width="1.2"/>
<line x1="262.3" y1="266.6" x2="262.3" y2="277.0" stroke="#fa1414" stroke-width="1.15"/>
<rect x="260.2" y="277.0" width="4.2" height="11.4" fill="none" stroke="#fa1414" stroke-width="1.2"/>
<line x1="268.2" y1="293.0" x2="268.2" y2="317.7" stroke="#1010fa" stroke-width="1.15"/>
<rect x="266.1" y="274.2" width="4.2" height="18.8" fill="none" stroke="#1010fa" stroke-width="1.2"/>
<line x1="274.0" y1="310.0" x2="274.0" y2="316.7" stroke="#1010fa" stroke-width="1.15"/>
<rect x="271.9" y="282.7" width="4.2" height="27.3" fill="none" stroke="#1010fa" stroke-width="1.2"/>
<line x1="280.0" y1="337.5" x2="280.0" y2="347.0" stroke="#1010fa" stroke-width="1.15"/>
<rect x="277.9" y="319.0" width="4.2" height="18.5" fill="none" stroke="#1010fa" stroke-width="1.2"/>
<line x1="285.7" y1="288.4" x2="285.7" y2="312.0" stroke="#fa1414" stroke-width="1.15"/>
<rect x="283.6" y="312.0" width="4.2" height="11.3" fill="none" stroke="#fa1414" stroke-width="1.2"/>
<line x1="290.8" y1="306.3" x2="290.8" y2="308.2" stroke="#1010fa" stroke-width="1.15"/>
<line x1="290.8" y1="336.6" x2="290.8" y2="341.3" stroke="#1010fa" stroke-width="1.15"/>
<rect x="288.7" y="308.2" width="4.2" height="28.4" fill="none" stroke="#1010fa" stroke-width="1.2"/>
<line x1="296.5" y1="330.2" x2="296.5" y2="338.7" stroke="#1010fa" stroke-width="1.15"/>
<line x1="296.5" y1="348.0" x2="296.5" y2="364.4" stroke="#1010fa" stroke-width="1.15"/>
<rect x="294.4" y="338.7" width="4.2" height="9.3" fill="none" stroke="#1010fa" stroke-width="1.2"/>
<line x1="302.0" y1="353.0" x2="302.0" y2="358.8" stroke="#1010fa" stroke-width="1.15"/>
<rect x="299.9" y="343.6" width="4.2" height="9.4" fill="none" stroke="#1010fa" stroke-width="1.2"/>
<line x1="307.5" y1="339.0" x2="307.5" y2="344.6" stroke="#fa1414" stroke-width="1.15"/>
<line x1="307.5" y1="352.0" x2="307.5" y2="365.4" stroke="#fa1414" stroke-width="1.15"/>
<rect x="305.4" y="344.6" width="4.2" height="7.4" fill="none" stroke="#fa1414" stroke-width="1.2"/>
<line x1="313.5" y1="334.2" x2="313.5" y2="339.8" stroke="#1010fa" stroke-width="1.15"/>
<line x1="313.5" y1="348.0" x2="313.5" y2="353.0" stroke="#1010fa" stroke-width="1.15"/>
<rect x="311.4" y="339.8" width="4.2" height="8.2" fill="none" stroke="#1010fa" stroke-width="1.2"/>
<line x1="318.8" y1="335.0" x2="318.8" y2="343.6" stroke="#fa1414" stroke-width="1.15"/>
<line x1="318.8" y1="348.4" x2="318.8" y2="358.8" stroke="#fa1414" stroke-width="1.15"/>
<rect x="316.7" y="343.6" width="4.2" height="4.8" fill="none" stroke="#fa1414" stroke-width="1.2"/>
<line x1="324.6" y1="380.5" x2="324.6" y2="384.3" stroke="#1010fa" stroke-width="1.15"/>
<rect x="322.5" y="340.8" width="4.2" height="39.7" fill="none" stroke="#1010fa" stroke-width="1.2"/>
<rect x="328.1" y="372.6" width="4.2" height="15.4" fill="none" stroke="#fa1414" stroke-width="1.2"/>
<line x1="335.4" y1="348.4" x2="335.4" y2="353.0" stroke="#fa1414" stroke-width="1.15"/>
<line x1="335.4" y1="368.2" x2="335.4" y2="374.8" stroke="#fa1414" stroke-width="1.15"/>
<rect x="333.3" y="353.0" width="4.2" height="15.2" fill="none" stroke="#fa1414" stroke-width="1.2"/>
<line x1="341.7" y1="354.0" x2="341.7" y2="356.9" stroke="#1010fa" stroke-width="1.15"/>
<line x1="341.7" y1="362.5" x2="341.7" y2="365.4" stroke="#1010fa" stroke-width="1.15"/>
<rect x="339.6" y="356.9" width="4.2" height="5.6" fill="none" stroke="#1010fa" stroke-width="1.2"/>
<line x1="346.4" y1="355.9" x2="346.4" y2="365.0" stroke="#fa1414" stroke-width="1.15"/>
<line x1="346.4" y1="367.0" x2="346.4" y2="378.6" stroke="#fa1414" stroke-width="1.15"/>
<rect x="344.3" y="365.0" width="4.2" height="2.0" fill="none" stroke="#fa1414" stroke-width="1.2"/>
<line x1="353.2" y1="353.0" x2="353.2" y2="354.6" stroke="#fa1414" stroke-width="1.15"/>
<rect x="351.1" y="354.6" width="4.2" height="5.1" fill="none" stroke="#fa1414" stroke-width="1.2"/>
<polyline points="56.7,453.2 75.6,446.7 100.0,438.8 118.9,435.4 137.8,432.2 156.7,430.3 175.6,427.5 194.5,424.7 210.0,422.8 220.0,423.5 245.2,419.5 265.4,417.2 285.5,414.5 305.7,411.4 325.8,409.0 349.8,407.2" fill="none" stroke="#000" stroke-width="2.8" stroke-linejoin="round" stroke-dasharray="2.6 2.8"/>
<polyline points="4.7,418.2 11.3,420.1 18.9,421.4 28.4,422.9 37.8,423.9 49.1,423.9 66.2,423.3 85.0,422.9 100.0,422.8 117.0,421.5 137.8,421.5 160.5,421.8 171.8,423.7 183.2,424.7 198.3,424.1 210.0,422.8 220.0,422.8 235.0,417.7 250.2,411.4 265.4,405.1 285.0,400.0 300.0,395.0 315.2,391.5 330.4,389.5 341.7,388.0 352.7,387.7" fill="none" stroke="#ff6a1e" stroke-width="2.0" stroke-linejoin="round"/>
<polyline points="5.7,405.5 15.1,404.0 22.7,402.5 30.2,405.0 37.8,407.8 47.3,407.4 56.7,405.0 66.2,404.0 75.6,405.0 85.0,404.0 94.5,402.5 100.0,400.1 111.3,398.2 122.7,394.4 134.0,392.5 143.5,391.2 149.1,388.8 156.7,387.8 168.0,387.8 179.4,387.8 188.8,386.9 196.4,385.0 202.0,383.1 210.0,382.5 220.0,379.4 235.0,373.6 245.2,366.0 250.2,360.0 265.4,345.8 280.5,332.0 293.0,324.4 303.2,321.1 319.0,320.6 330.4,322.8 341.7,326.6 352.7,331.7" fill="none" stroke="#ff0a0a" stroke-width="2.0" stroke-linejoin="round"/>
<polyline points="5.7,411.6 18.9,412.0 34.0,412.0 43.5,409.7 52.9,407.8 64.3,405.9 75.6,405.0 85.0,403.6 94.5,401.8 100.0,400.7 111.3,398.8 118.9,396.3 130.2,393.9 141.6,393.1 156.7,394.0 171.8,394.4 187.0,395.0 200.2,395.0 210.0,396.3 220.0,395.6 245.2,385.0 265.4,378.7 285.0,373.9 303.9,370.0 322.8,367.3 338.0,366.0 352.7,363.9" fill="none" stroke="#000" stroke-width="2.2" stroke-linejoin="round"/>
<polyline points="2.8,386.0 7.6,398.4 13.2,407.8 18.9,410.6 23.6,406.9 27.4,400.2 32.1,405.0 37.8,415.4 43.9,422.0 49.5,414.4 56.7,410.6 65.2,397.4 71.8,404.0 77.5,405.0 83.2,399.3 88.8,388.0 94.5,385.1 100.0,378.4 103.8,373.6 107.6,372.7 111.3,376.5 117.0,373.6 122.7,368.0 126.5,376.5 131.2,383.1 135.9,384.0 139.7,381.2 143.5,389.7 149.1,395.4 156.7,396.3 165.2,395.4 170.9,394.4 174.7,399.1 179.4,402.9 185.1,400.1 190.7,391.6 196.4,384.0 200.2,370.8 204.9,359.5 210.0,354.0 213.0,350.0 220.0,344.6 230.0,337.0 240.2,318.1 251.5,294.2 257.8,296.7 269.1,280.3 274.2,282.8 285.5,313.1 291.8,314.3 305.8,344.6 313.4,344.6 324.7,342.7 330.4,367.3 335.7,371.0 341.7,365.4 352.7,361.2" fill="none" stroke="#0a0aff" stroke-width="1.9" stroke-linejoin="round"/>
</g>
<g clip-path="url(#cBR)">
<line x1="444.6" y1="288.0" x2="444.6" y2="308.9" stroke="#1010fa" stroke-width="1.0"/>
<rect x="443.1" y="267.3" width="3.0" height="20.7" fill="none" stroke="#1010fa" stroke-width="1.0"/>
<line x1="449.0" y1="283.4" x2="449.0" y2="287.0" stroke="#1010fa" stroke-width="1.0"/>
<line x1="449.0" y1="292.8" x2="449.0" y2="302.3" stroke="#1010fa" stroke-width="1.0"/>
<rect x="447.5" y="287.0" width="3.0" height="5.8" fill="none" stroke="#1010fa" stroke-width="1.0"/>
<line x1="452.5" y1="319.3" x2="452.5" y2="325.0" stroke="#1010fa" stroke-width="1.0"/>
<rect x="451.0" y="292.8" width="3.0" height="26.5" fill="none" stroke="#1010fa" stroke-width="1.0"/>
<line x1="456.0" y1="299.0" x2="456.0" y2="303.2" stroke="#fa1414" stroke-width="1.0"/>
<line x1="456.0" y1="313.6" x2="456.0" y2="318.0" stroke="#fa1414" stroke-width="1.0"/>
<rect x="454.5" y="303.2" width="3.0" height="10.4" fill="none" stroke="#fa1414" stroke-width="1.0"/>
<line x1="459.7" y1="302.0" x2="459.7" y2="308.0" stroke="#1010fa" stroke-width="1.0"/>
<line x1="459.7" y1="313.6" x2="459.7" y2="322.1" stroke="#1010fa" stroke-width="1.0"/>
<rect x="458.2" y="308.0" width="3.0" height="5.6" fill="none" stroke="#1010fa" stroke-width="1.0"/>
<line x1="463.8" y1="300.0" x2="463.8" y2="304.5" stroke="#fa1414" stroke-width="1.0"/>
<line x1="463.8" y1="309.8" x2="463.8" y2="314.0" stroke="#fa1414" stroke-width="1.0"/>
<rect x="462.3" y="304.5" width="3.0" height="5.3" fill="none" stroke="#fa1414" stroke-width="1.0"/>
<line x1="467.8" y1="298.5" x2="467.8" y2="300.4" stroke="#fa1414" stroke-width="1.0"/>
<line x1="467.8" y1="305.1" x2="467.8" y2="309.0" stroke="#fa1414" stroke-width="1.0"/>
<rect x="466.3" y="300.4" width="3.0" height="4.7" fill="none" stroke="#fa1414" stroke-width="1.0"/>
<line x1="472.0" y1="299.4" x2="472.0" y2="301.3" stroke="#1010fa" stroke-width="1.0"/>
<line x1="472.0" y1="307.0" x2="472.0" y2="311.0" stroke="#1010fa" stroke-width="1.0"/>
<rect x="470.5" y="301.3" width="3.0" height="5.7" fill="none" stroke="#1010fa" stroke-width="1.0"/>
<line x1="475.8" y1="320.2" x2="475.8" y2="333.4" stroke="#1010fa" stroke-width="1.0"/>
<rect x="474.3" y="307.0" width="3.0" height="13.2" fill="none" stroke="#1010fa" stroke-width="1.0"/>
<line x1="480.1" y1="318.0" x2="480.1" y2="322.1" stroke="#1010fa" stroke-width="1.0"/>
<line x1="480.1" y1="334.4" x2="480.1" y2="338.0" stroke="#1010fa" stroke-width="1.0"/>
<rect x="478.6" y="322.1" width="3.0" height="12.3" fill="none" stroke="#1010fa" stroke-width="1.0"/>
<line x1="484.3" y1="345.0" x2="484.3" y2="348.0" stroke="#1010fa" stroke-width="1.0"/>
<rect x="482.8" y="334.4" width="3.0" height="10.6" fill="none" stroke="#1010fa" stroke-width="1.0"/>
<line x1="488.0" y1="331.0" x2="488.0" y2="334.0" stroke="#1010fa" stroke-width="1.0"/>
<line x1="488.0" y1="400.0" x2="488.0" y2="442.0" stroke="#1010fa" stroke-width="1.0"/>
<rect x="486.5" y="334.0" width="3.0" height="66.0" fill="none" stroke="#1010fa" stroke-width="1.0"/>
<line x1="492.4" y1="384.8" x2="492.4" y2="392.4" stroke="#fa1414" stroke-width="1.0"/>
<line x1="492.4" y1="398.0" x2="492.4" y2="418.0" stroke="#fa1414" stroke-width="1.0"/>
<rect x="490.9" y="392.4" width="3.0" height="5.6" fill="none" stroke="#fa1414" stroke-width="1.0"/>
<line x1="495.6" y1="378.2" x2="495.6" y2="381.0" stroke="#fa1414" stroke-width="1.0"/>
<line x1="495.6" y1="386.7" x2="495.6" y2="405.6" stroke="#fa1414" stroke-width="1.0"/>
<rect x="494.1" y="381.0" width="3.0" height="5.7" fill="none" stroke="#fa1414" stroke-width="1.0"/>
<line x1="499.4" y1="374.4" x2="499.4" y2="380.0" stroke="#1010fa" stroke-width="1.0"/>
<line x1="499.4" y1="382.0" x2="499.4" y2="388.6" stroke="#1010fa" stroke-width="1.0"/>
<rect x="497.9" y="380.0" width="3.0" height="2.0" fill="none" stroke="#1010fa" stroke-width="1.0"/>
<line x1="503.8" y1="369.7" x2="503.8" y2="383.0" stroke="#1010fa" stroke-width="1.0"/>
<line x1="503.8" y1="384.8" x2="503.8" y2="389.5" stroke="#1010fa" stroke-width="1.0"/>
<rect x="502.3" y="383.0" width="3.0" height="1.8" fill="none" stroke="#1010fa" stroke-width="1.0"/>
<line x1="508.2" y1="386.7" x2="508.2" y2="398.0" stroke="#fa1414" stroke-width="1.0"/>
<rect x="506.7" y="365.0" width="3.0" height="21.7" fill="none" stroke="#fa1414" stroke-width="1.0"/>
<rect x="510.6" y="335.7" width="3.0" height="29.3" fill="none" stroke="#fa1414" stroke-width="1.0"/>
<line x1="516.0" y1="327.0" x2="516.0" y2="331.9" stroke="#fa1414" stroke-width="1.0"/>
<line x1="516.0" y1="339.5" x2="516.0" y2="344.0" stroke="#fa1414" stroke-width="1.0"/>
<rect x="514.5" y="331.9" width="3.0" height="7.6" fill="none" stroke="#fa1414" stroke-width="1.0"/>
<line x1="520.0" y1="326.3" x2="520.0" y2="329.0" stroke="#fa1414" stroke-width="1.0"/>
<line x1="520.0" y1="331.4" x2="520.0" y2="339.8" stroke="#fa1414" stroke-width="1.0"/>
<rect x="518.5" y="329.0" width="3.0" height="2.3" fill="#fa1414" fill-opacity="0.35" stroke="#fa1414" stroke-width="1.0"/>
<line x1="524.0" y1="322.4" x2="524.0" y2="326.7" stroke="#1010fa" stroke-width="1.0"/>
<line x1="524.0" y1="330.8" x2="524.0" y2="331.9" stroke="#1010fa" stroke-width="1.0"/>
<rect x="522.5" y="326.7" width="3.0" height="4.1" fill="#1010fa" fill-opacity="0.35" stroke="#1010fa" stroke-width="1.0"/>
<line x1="527.9" y1="327.1" x2="527.9" y2="328.9" stroke="#fa1414" stroke-width="1.0"/>
<line x1="527.9" y1="330.2" x2="527.9" y2="331.6" stroke="#fa1414" stroke-width="1.0"/>
<rect x="526.4" y="328.9" width="3.0" height="1.3" fill="#fa1414" fill-opacity="0.35" stroke="#fa1414" stroke-width="1.0"/>
<line x1="531.9" y1="311.7" x2="531.9" y2="316.5" stroke="#fa1414" stroke-width="1.0"/>
<line x1="531.9" y1="329.1" x2="531.9" y2="330.7" stroke="#fa1414" stroke-width="1.0"/>
<rect x="530.4" y="316.5" width="3.0" height="12.6" fill="#fa1414" fill-opacity="0.35" stroke="#fa1414" stroke-width="1.0"/>
<line x1="535.8" y1="314.7" x2="535.8" y2="316.5" stroke="#1010fa" stroke-width="1.0"/>
<line x1="535.8" y1="325.2" x2="535.8" y2="333.3" stroke="#1010fa" stroke-width="1.0"/>
<rect x="534.3" y="316.5" width="3.0" height="8.7" fill="#1010fa" fill-opacity="0.35" stroke="#1010fa" stroke-width="1.0"/>
<line x1="539.8" y1="323.6" x2="539.8" y2="324.6" stroke="#1010fa" stroke-width="1.0"/>
<line x1="539.8" y1="330.6" x2="539.8" y2="332.8" stroke="#1010fa" stroke-width="1.0"/>
<rect x="538.2" y="324.6" width="3.0" height="6.0" fill="#1010fa" fill-opacity="0.35" stroke="#1010fa" stroke-width="1.0"/>
<line x1="543.7" y1="322.7" x2="543.7" y2="330.2" stroke="#1010fa" stroke-width="1.0"/>
<line x1="543.7" y1="333.6" x2="543.7" y2="334.1" stroke="#1010fa" stroke-width="1.0"/>
<rect x="542.2" y="330.2" width="3.0" height="3.4" fill="#1010fa" fill-opacity="0.35" stroke="#1010fa" stroke-width="1.0"/>
<line x1="547.6" y1="326.8" x2="547.6" y2="334.3" stroke="#1010fa" stroke-width="1.0"/>
<line x1="547.6" y1="336.1" x2="547.6" y2="337.2" stroke="#1010fa" stroke-width="1.0"/>
<rect x="546.1" y="334.3" width="3.0" height="1.8" fill="#1010fa" fill-opacity="0.35" stroke="#1010fa" stroke-width="1.0"/>
<line x1="551.6" y1="327.7" x2="551.6" y2="333.2" stroke="#fa1414" stroke-width="1.0"/>
<line x1="551.6" y1="338.7" x2="551.6" y2="340.4" stroke="#fa1414" stroke-width="1.0"/>
<rect x="550.1" y="333.2" width="3.0" height="5.4" fill="#fa1414" fill-opacity="0.35" stroke="#fa1414" stroke-width="1.0"/>
<line x1="555.5" y1="331.9" x2="555.5" y2="335.6" stroke="#1010fa" stroke-width="1.0"/>
<line x1="555.5" y1="337.4" x2="555.5" y2="346.3" stroke="#1010fa" stroke-width="1.0"/>
<rect x="554.0" y="335.6" width="3.0" height="1.8" fill="#1010fa" fill-opacity="0.35" stroke="#1010fa" stroke-width="1.0"/>
<line x1="559.5" y1="335.1" x2="559.5" y2="336.9" stroke="#1010fa" stroke-width="1.0"/>
<line x1="559.5" y1="338.5" x2="559.5" y2="340.5" stroke="#1010fa" stroke-width="1.0"/>
<rect x="558.0" y="336.9" width="3.0" height="1.6" fill="#1010fa" fill-opacity="0.35" stroke="#1010fa" stroke-width="1.0"/>
<line x1="563.5" y1="335.3" x2="563.5" y2="337.2" stroke="#fa1414" stroke-width="1.0"/>
<line x1="563.5" y1="338.8" x2="563.5" y2="343.7" stroke="#fa1414" stroke-width="1.0"/>
<rect x="562.0" y="337.2" width="3.0" height="1.6" fill="#fa1414" fill-opacity="0.35" stroke="#fa1414" stroke-width="1.0"/>
<line x1="567.4" y1="335.2" x2="567.4" y2="337.2" stroke="#1010fa" stroke-width="1.0"/>
<line x1="567.4" y1="340.3" x2="567.4" y2="343.2" stroke="#1010fa" stroke-width="1.0"/>
<rect x="565.9" y="337.2" width="3.0" height="3.0" fill="#1010fa" fill-opacity="0.35" stroke="#1010fa" stroke-width="1.0"/>
<line x1="571.4" y1="332.0" x2="571.4" y2="334.0" stroke="#fa1414" stroke-width="1.0"/>
<line x1="571.4" y1="339.2" x2="571.4" y2="343.2" stroke="#fa1414" stroke-width="1.0"/>
<rect x="569.9" y="334.0" width="3.0" height="5.2" fill="#fa1414" fill-opacity="0.35" stroke="#fa1414" stroke-width="1.0"/>
<line x1="575.3" y1="325.8" x2="575.3" y2="327.0" stroke="#fa1414" stroke-width="1.0"/>
<line x1="575.3" y1="333.6" x2="575.3" y2="334.1" stroke="#fa1414" stroke-width="1.0"/>
<rect x="573.8" y="327.0" width="3.0" height="6.6" fill="#fa1414" fill-opacity="0.35" stroke="#fa1414" stroke-width="1.0"/>
<line x1="579.2" y1="312.9" x2="579.2" y2="319.5" stroke="#fa1414" stroke-width="1.0"/>
<line x1="579.2" y1="325.0" x2="579.2" y2="326.1" stroke="#fa1414" stroke-width="1.0"/>
<rect x="577.8" y="319.5" width="3.0" height="5.5" fill="#fa1414" fill-opacity="0.35" stroke="#fa1414" stroke-width="1.0"/>
<line x1="583.2" y1="307.8" x2="583.2" y2="309.3" stroke="#fa1414" stroke-width="1.0"/>
<line x1="583.2" y1="320.5" x2="583.2" y2="321.0" stroke="#fa1414" stroke-width="1.0"/>
<rect x="581.7" y="309.3" width="3.0" height="11.2" fill="#fa1414" fill-opacity="0.35" stroke="#fa1414" stroke-width="1.0"/>
<line x1="587.1" y1="311.0" x2="587.1" y2="311.7" stroke="#1010fa" stroke-width="1.0"/>
<line x1="587.1" y1="312.7" x2="587.1" y2="321.2" stroke="#1010fa" stroke-width="1.0"/>
<rect x="585.6" y="311.7" width="3.0" height="1.0" fill="#1010fa" fill-opacity="0.35" stroke="#1010fa" stroke-width="1.0"/>
<line x1="591.1" y1="304.9" x2="591.1" y2="307.9" stroke="#fa1414" stroke-width="1.0"/>
<line x1="591.1" y1="312.4" x2="591.1" y2="316.1" stroke="#fa1414" stroke-width="1.0"/>
<rect x="589.6" y="307.9" width="3.0" height="4.4" fill="#fa1414" fill-opacity="0.35" stroke="#fa1414" stroke-width="1.0"/>
<line x1="595.0" y1="303.5" x2="595.0" y2="303.9" stroke="#fa1414" stroke-width="1.0"/>
<line x1="595.0" y1="307.4" x2="595.0" y2="314.1" stroke="#fa1414" stroke-width="1.0"/>
<rect x="593.5" y="303.9" width="3.0" height="3.5" fill="#fa1414" fill-opacity="0.35" stroke="#fa1414" stroke-width="1.0"/>
<line x1="599.0" y1="299.6" x2="599.0" y2="302.7" stroke="#fa1414" stroke-width="1.0"/>
<line x1="599.0" y1="303.7" x2="599.0" y2="305.8" stroke="#fa1414" stroke-width="1.0"/>
<rect x="597.5" y="302.7" width="3.0" height="1.0" fill="#fa1414" fill-opacity="0.35" stroke="#fa1414" stroke-width="1.0"/>
<line x1="603.0" y1="292.2" x2="603.0" y2="296.9" stroke="#fa1414" stroke-width="1.0"/>
<line x1="603.0" y1="301.2" x2="603.0" y2="308.3" stroke="#fa1414" stroke-width="1.0"/>
<rect x="601.5" y="296.9" width="3.0" height="4.3" fill="#fa1414" fill-opacity="0.35" stroke="#fa1414" stroke-width="1.0"/>
<line x1="606.9" y1="295.3" x2="606.9" y2="296.6" stroke="#1010fa" stroke-width="1.0"/>
<line x1="606.9" y1="298.4" x2="606.9" y2="300.8" stroke="#1010fa" stroke-width="1.0"/>
<rect x="605.4" y="296.6" width="3.0" height="1.8" fill="#1010fa" fill-opacity="0.35" stroke="#1010fa" stroke-width="1.0"/>
<line x1="610.9" y1="295.2" x2="610.9" y2="297.7" stroke="#fa1414" stroke-width="1.0"/>
<line x1="610.9" y1="298.7" x2="610.9" y2="299.1" stroke="#fa1414" stroke-width="1.0"/>
<rect x="609.4" y="297.7" width="3.0" height="1.0" fill="#fa1414" fill-opacity="0.35" stroke="#fa1414" stroke-width="1.0"/>
<line x1="614.8" y1="294.7" x2="614.8" y2="298.6" stroke="#1010fa" stroke-width="1.0"/>
<line x1="614.8" y1="299.7" x2="614.8" y2="300.9" stroke="#1010fa" stroke-width="1.0"/>
<rect x="613.3" y="298.6" width="3.0" height="1.1" fill="#1010fa" fill-opacity="0.35" stroke="#1010fa" stroke-width="1.0"/>
<line x1="618.8" y1="279.7" x2="618.8" y2="281.9" stroke="#fa1414" stroke-width="1.0"/>
<line x1="618.8" y1="301.1" x2="618.8" y2="305.0" stroke="#fa1414" stroke-width="1.0"/>
<rect x="617.2" y="281.9" width="3.0" height="19.2" fill="#fa1414" fill-opacity="0.35" stroke="#fa1414" stroke-width="1.0"/>
<line x1="622.7" y1="276.7" x2="622.7" y2="281.1" stroke="#fa1414" stroke-width="1.0"/>
<line x1="622.7" y1="282.1" x2="622.7" y2="283.3" stroke="#fa1414" stroke-width="1.0"/>
<rect x="621.2" y="281.1" width="3.0" height="1.0" fill="#fa1414" fill-opacity="0.35" stroke="#fa1414" stroke-width="1.0"/>
<line x1="626.6" y1="279.2" x2="626.6" y2="280.6" stroke="#1010fa" stroke-width="1.0"/>
<line x1="626.6" y1="299.9" x2="626.6" y2="308.8" stroke="#1010fa" stroke-width="1.0"/>
<rect x="625.1" y="280.6" width="3.0" height="19.2" fill="#1010fa" fill-opacity="0.35" stroke="#1010fa" stroke-width="1.0"/>
<line x1="630.6" y1="295.2" x2="630.6" y2="298.5" stroke="#1010fa" stroke-width="1.0"/>
<line x1="630.6" y1="309.4" x2="630.6" y2="312.1" stroke="#1010fa" stroke-width="1.0"/>
<rect x="629.1" y="298.5" width="3.0" height="10.9" fill="#1010fa" fill-opacity="0.35" stroke="#1010fa" stroke-width="1.0"/>
<line x1="634.5" y1="309.6" x2="634.5" y2="311.0" stroke="#1010fa" stroke-width="1.0"/>
<line x1="634.5" y1="320.6" x2="634.5" y2="324.7" stroke="#1010fa" stroke-width="1.0"/>
<rect x="633.0" y="311.0" width="3.0" height="9.5" fill="#1010fa" fill-opacity="0.35" stroke="#1010fa" stroke-width="1.0"/>
<line x1="638.5" y1="315.0" x2="638.5" y2="319.2" stroke="#fa1414" stroke-width="1.0"/>
<line x1="638.5" y1="320.5" x2="638.5" y2="321.5" stroke="#fa1414" stroke-width="1.0"/>
<rect x="637.0" y="319.2" width="3.0" height="1.4" fill="#fa1414" fill-opacity="0.35" stroke="#fa1414" stroke-width="1.0"/>
<line x1="642.5" y1="299.4" x2="642.5" y2="302.7" stroke="#fa1414" stroke-width="1.0"/>
<line x1="642.5" y1="319.3" x2="642.5" y2="320.1" stroke="#fa1414" stroke-width="1.0"/>
<rect x="641.0" y="302.7" width="3.0" height="16.6" fill="#fa1414" fill-opacity="0.35" stroke="#fa1414" stroke-width="1.0"/>
<line x1="646.4" y1="293.8" x2="646.4" y2="303.0" stroke="#1010fa" stroke-width="1.0"/>
<line x1="646.4" y1="304.0" x2="646.4" y2="305.1" stroke="#1010fa" stroke-width="1.0"/>
<rect x="644.9" y="303.0" width="3.0" height="1.0" fill="#1010fa" fill-opacity="0.35" stroke="#1010fa" stroke-width="1.0"/>
<line x1="650.4" y1="300.9" x2="650.4" y2="302.1" stroke="#fa1414" stroke-width="1.0"/>
<line x1="650.4" y1="303.2" x2="650.4" y2="304.8" stroke="#fa1414" stroke-width="1.0"/>
<rect x="648.9" y="302.1" width="3.0" height="1.0" fill="#fa1414" fill-opacity="0.35" stroke="#fa1414" stroke-width="1.0"/>
<line x1="654.3" y1="301.3" x2="654.3" y2="303.9" stroke="#1010fa" stroke-width="1.0"/>
<line x1="654.3" y1="310.2" x2="654.3" y2="313.1" stroke="#1010fa" stroke-width="1.0"/>
<rect x="652.8" y="303.9" width="3.0" height="6.3" fill="#1010fa" fill-opacity="0.35" stroke="#1010fa" stroke-width="1.0"/>
<line x1="662.0" y1="326.9" x2="662.0" y2="330.1" stroke="#fa1414" stroke-width="1.0"/>
<line x1="662.0" y1="332.1" x2="662.0" y2="335.9" stroke="#fa1414" stroke-width="1.0"/>
<rect x="660.5" y="330.1" width="3.0" height="2.0" fill="#fa1414" fill-opacity="0.35" stroke="#fa1414" stroke-width="1.0"/>
<line x1="666.0" y1="329.0" x2="666.0" y2="330.1" stroke="#1010fa" stroke-width="1.0"/>
<line x1="666.0" y1="334.2" x2="666.0" y2="335.1" stroke="#1010fa" stroke-width="1.0"/>
<rect x="664.5" y="330.1" width="3.0" height="4.1" fill="#1010fa" fill-opacity="0.35" stroke="#1010fa" stroke-width="1.0"/>
<line x1="669.9" y1="319.9" x2="669.9" y2="322.3" stroke="#fa1414" stroke-width="1.0"/>
<line x1="669.9" y1="333.9" x2="669.9" y2="334.8" stroke="#fa1414" stroke-width="1.0"/>
<rect x="668.4" y="322.3" width="3.0" height="11.5" fill="#fa1414" fill-opacity="0.35" stroke="#fa1414" stroke-width="1.0"/>
<line x1="673.9" y1="317.8" x2="673.9" y2="318.4" stroke="#fa1414" stroke-width="1.0"/>
<line x1="673.9" y1="321.6" x2="673.9" y2="323.3" stroke="#fa1414" stroke-width="1.0"/>
<rect x="672.4" y="318.4" width="3.0" height="3.2" fill="#fa1414" fill-opacity="0.35" stroke="#fa1414" stroke-width="1.0"/>
<line x1="677.8" y1="311.1" x2="677.8" y2="316.5" stroke="#fa1414" stroke-width="1.0"/>
<line x1="677.8" y1="318.8" x2="677.8" y2="319.4" stroke="#fa1414" stroke-width="1.0"/>
<rect x="676.3" y="316.5" width="3.0" height="2.2" fill="#fa1414" fill-opacity="0.35" stroke="#fa1414" stroke-width="1.0"/>
<line x1="681.8" y1="310.0" x2="681.8" y2="313.1" stroke="#fa1414" stroke-width="1.0"/>
<line x1="681.8" y1="315.9" x2="681.8" y2="318.7" stroke="#fa1414" stroke-width="1.0"/>
<rect x="680.2" y="313.1" width="3.0" height="2.8" fill="#fa1414" fill-opacity="0.35" stroke="#fa1414" stroke-width="1.0"/>
<line x1="685.7" y1="311.4" x2="685.7" y2="313.5" stroke="#1010fa" stroke-width="1.0"/>
<line x1="685.7" y1="317.8" x2="685.7" y2="321.4" stroke="#1010fa" stroke-width="1.0"/>
<rect x="684.2" y="313.5" width="3.0" height="4.4" fill="#1010fa" fill-opacity="0.35" stroke="#1010fa" stroke-width="1.0"/>
<line x1="689.6" y1="314.1" x2="689.6" y2="314.6" stroke="#fa1414" stroke-width="1.0"/>
<line x1="689.6" y1="318.0" x2="689.6" y2="319.9" stroke="#fa1414" stroke-width="1.0"/>
<rect x="688.1" y="314.6" width="3.0" height="3.4" fill="#fa1414" fill-opacity="0.35" stroke="#fa1414" stroke-width="1.0"/>
<line x1="693.6" y1="310.5" x2="693.6" y2="312.3" stroke="#fa1414" stroke-width="1.0"/>
<line x1="693.6" y1="315.9" x2="693.6" y2="320.6" stroke="#fa1414" stroke-width="1.0"/>
<rect x="692.1" y="312.3" width="3.0" height="3.6" fill="#fa1414" fill-opacity="0.35" stroke="#fa1414" stroke-width="1.0"/>
<line x1="697.5" y1="307.0" x2="697.5" y2="309.2" stroke="#fa1414" stroke-width="1.0"/>
<line x1="697.5" y1="312.2" x2="697.5" y2="314.3" stroke="#fa1414" stroke-width="1.0"/>
<rect x="696.0" y="309.2" width="3.0" height="2.9" fill="#fa1414" fill-opacity="0.35" stroke="#fa1414" stroke-width="1.0"/>
<line x1="701.5" y1="305.3" x2="701.5" y2="306.6" stroke="#fa1414" stroke-width="1.0"/>
<line x1="701.5" y1="309.3" x2="701.5" y2="310.3" stroke="#fa1414" stroke-width="1.0"/>
<rect x="700.0" y="306.6" width="3.0" height="2.8" fill="#fa1414" fill-opacity="0.35" stroke="#fa1414" stroke-width="1.0"/>
<line x1="705.5" y1="296.9" x2="705.5" y2="301.4" stroke="#fa1414" stroke-width="1.0"/>
<line x1="705.5" y1="306.4" x2="705.5" y2="309.0" stroke="#fa1414" stroke-width="1.0"/>
<rect x="704.0" y="301.4" width="3.0" height="5.0" fill="#fa1414" fill-opacity="0.35" stroke="#fa1414" stroke-width="1.0"/>
<line x1="709.4" y1="298.7" x2="709.4" y2="301.5" stroke="#1010fa" stroke-width="1.0"/>
<line x1="709.4" y1="306.9" x2="709.4" y2="308.7" stroke="#1010fa" stroke-width="1.0"/>
<rect x="707.9" y="301.5" width="3.0" height="5.4" fill="#1010fa" fill-opacity="0.35" stroke="#1010fa" stroke-width="1.0"/>
<line x1="713.4" y1="301.6" x2="713.4" y2="306.9" stroke="#1010fa" stroke-width="1.0"/>
<line x1="713.4" y1="313.4" x2="713.4" y2="313.9" stroke="#1010fa" stroke-width="1.0"/>
<rect x="711.9" y="306.9" width="3.0" height="6.5" fill="#1010fa" fill-opacity="0.35" stroke="#1010fa" stroke-width="1.0"/>
<line x1="717.3" y1="310.0" x2="717.3" y2="312.8" stroke="#fa1414" stroke-width="1.0"/>
<line x1="717.3" y1="313.8" x2="717.3" y2="315.8" stroke="#fa1414" stroke-width="1.0"/>
<rect x="715.8" y="312.8" width="3.0" height="1.0" fill="#fa1414" fill-opacity="0.35" stroke="#fa1414" stroke-width="1.0"/>
<line x1="721.2" y1="312.5" x2="721.2" y2="313.6" stroke="#1010fa" stroke-width="1.0"/>
<line x1="721.2" y1="315.4" x2="721.2" y2="316.0" stroke="#1010fa" stroke-width="1.0"/>
<rect x="719.8" y="313.6" width="3.0" height="1.8" fill="#1010fa" fill-opacity="0.35" stroke="#1010fa" stroke-width="1.0"/>
<line x1="725.2" y1="308.8" x2="725.2" y2="310.3" stroke="#fa1414" stroke-width="1.0"/>
<line x1="725.2" y1="315.1" x2="725.2" y2="316.9" stroke="#fa1414" stroke-width="1.0"/>
<rect x="723.7" y="310.3" width="3.0" height="4.8" fill="#fa1414" fill-opacity="0.35" stroke="#fa1414" stroke-width="1.0"/>
<line x1="729.1" y1="307.3" x2="729.1" y2="310.2" stroke="#1010fa" stroke-width="1.0"/>
<line x1="729.1" y1="318.8" x2="729.1" y2="321.5" stroke="#1010fa" stroke-width="1.0"/>
<rect x="727.6" y="310.2" width="3.0" height="8.6" fill="#1010fa" fill-opacity="0.35" stroke="#1010fa" stroke-width="1.0"/>
<line x1="733.1" y1="311.2" x2="733.1" y2="312.1" stroke="#fa1414" stroke-width="1.0"/>
<line x1="733.1" y1="318.6" x2="733.1" y2="319.4" stroke="#fa1414" stroke-width="1.0"/>
<rect x="731.6" y="312.1" width="3.0" height="6.6" fill="#fa1414" fill-opacity="0.35" stroke="#fa1414" stroke-width="1.0"/>
<line x1="737.0" y1="303.8" x2="737.0" y2="307.5" stroke="#fa1414" stroke-width="1.0"/>
<line x1="737.0" y1="312.8" x2="737.0" y2="315.3" stroke="#fa1414" stroke-width="1.0"/>
<rect x="735.5" y="307.5" width="3.0" height="5.4" fill="#fa1414" fill-opacity="0.35" stroke="#fa1414" stroke-width="1.0"/>
<line x1="741.0" y1="305.5" x2="741.0" y2="307.8" stroke="#1010fa" stroke-width="1.0"/>
<line x1="741.0" y1="309.7" x2="741.0" y2="312.3" stroke="#1010fa" stroke-width="1.0"/>
<rect x="739.5" y="307.8" width="3.0" height="1.9" fill="#1010fa" fill-opacity="0.35" stroke="#1010fa" stroke-width="1.0"/>
<line x1="745.0" y1="303.0" x2="745.0" y2="306.2" stroke="#fa1414" stroke-width="1.0"/>
<line x1="745.0" y1="309.9" x2="745.0" y2="310.6" stroke="#fa1414" stroke-width="1.0"/>
<rect x="743.5" y="306.2" width="3.0" height="3.7" fill="#fa1414" fill-opacity="0.35" stroke="#fa1414" stroke-width="1.0"/>
<line x1="748.9" y1="304.8" x2="748.9" y2="306.4" stroke="#1010fa" stroke-width="1.0"/>
<line x1="748.9" y1="312.7" x2="748.9" y2="315.2" stroke="#1010fa" stroke-width="1.0"/>
<rect x="747.4" y="306.4" width="3.0" height="6.4" fill="#1010fa" fill-opacity="0.35" stroke="#1010fa" stroke-width="1.0"/>
<line x1="752.9" y1="310.2" x2="752.9" y2="311.0" stroke="#fa1414" stroke-width="1.0"/>
<line x1="752.9" y1="313.5" x2="752.9" y2="314.7" stroke="#fa1414" stroke-width="1.0"/>
<rect x="751.4" y="311.0" width="3.0" height="2.4" fill="#fa1414" fill-opacity="0.35" stroke="#fa1414" stroke-width="1.0"/>
<line x1="756.8" y1="308.9" x2="756.8" y2="309.4" stroke="#fa1414" stroke-width="1.0"/>
<line x1="756.8" y1="310.8" x2="756.8" y2="311.7" stroke="#fa1414" stroke-width="1.0"/>
<rect x="755.3" y="309.4" width="3.0" height="1.4" fill="#fa1414" fill-opacity="0.35" stroke="#fa1414" stroke-width="1.0"/>
<line x1="760.8" y1="307.4" x2="760.8" y2="308.2" stroke="#1010fa" stroke-width="1.0"/>
<line x1="760.8" y1="309.2" x2="760.8" y2="311.2" stroke="#1010fa" stroke-width="1.0"/>
<rect x="759.2" y="308.2" width="3.0" height="1.0" fill="#1010fa" fill-opacity="0.35" stroke="#1010fa" stroke-width="1.0"/>
<line x1="764.7" y1="301.6" x2="764.7" y2="302.7" stroke="#fa1414" stroke-width="1.0"/>
<line x1="764.7" y1="308.5" x2="764.7" y2="314.5" stroke="#fa1414" stroke-width="1.0"/>
<rect x="763.2" y="302.7" width="3.0" height="5.7" fill="#fa1414" fill-opacity="0.35" stroke="#fa1414" stroke-width="1.0"/>
<line x1="768.6" y1="294.5" x2="768.6" y2="296.3" stroke="#fa1414" stroke-width="1.0"/>
<line x1="768.6" y1="303.1" x2="768.6" y2="305.1" stroke="#fa1414" stroke-width="1.0"/>
<rect x="767.1" y="296.3" width="3.0" height="6.9" fill="#fa1414" fill-opacity="0.35" stroke="#fa1414" stroke-width="1.0"/>
<line x1="772.6" y1="294.6" x2="772.6" y2="295.9" stroke="#1010fa" stroke-width="1.0"/>
<line x1="772.6" y1="297.2" x2="772.6" y2="299.0" stroke="#1010fa" stroke-width="1.0"/>
<rect x="771.1" y="295.9" width="3.0" height="1.3" fill="#1010fa" fill-opacity="0.35" stroke="#1010fa" stroke-width="1.0"/>
<line x1="776.5" y1="294.9" x2="776.5" y2="297.8" stroke="#1010fa" stroke-width="1.0"/>
<line x1="776.5" y1="306.4" x2="776.5" y2="311.5" stroke="#1010fa" stroke-width="1.0"/>
<rect x="775.0" y="297.8" width="3.0" height="8.6" fill="#1010fa" fill-opacity="0.35" stroke="#1010fa" stroke-width="1.0"/>
<line x1="780.5" y1="305.1" x2="780.5" y2="306.3" stroke="#1010fa" stroke-width="1.0"/>
<line x1="780.5" y1="308.3" x2="780.5" y2="308.7" stroke="#1010fa" stroke-width="1.0"/>
<rect x="779.0" y="306.3" width="3.0" height="1.9" fill="#1010fa" fill-opacity="0.35" stroke="#1010fa" stroke-width="1.0"/>
<line x1="784.5" y1="305.5" x2="784.5" y2="307.9" stroke="#fa1414" stroke-width="1.0"/>
<line x1="784.5" y1="308.9" x2="784.5" y2="309.8" stroke="#fa1414" stroke-width="1.0"/>
<rect x="783.0" y="307.9" width="3.0" height="1.0" fill="#fa1414" fill-opacity="0.35" stroke="#fa1414" stroke-width="1.0"/>
<polyline points="543.0,379.5 556.0,375.8 571.0,372.7 586.2,369.4 601.3,364.6 613.4,361.0 628.6,357.1 657.0,350.9 682.2,345.8 707.4,341.3 732.6,338.3 757.8,335.3 780.5,332.5" fill="none" stroke="#ff5f0a" stroke-width="2.0" stroke-linejoin="round" stroke-dasharray="1.8 1.8"/>
<polyline points="444.6,374.9 452.1,368.6 459.7,363.6 466.9,359.8 472.6,356.1 480.1,354.4 487.7,356.1 495.2,358.2 506.6,358.6 517.9,357.6 529.3,353.6 540.6,350.8 552.0,348.9 563.3,347.2 578.1,345.3 593.3,340.8 608.4,335.8 623.5,330.7 638.6,327.7 657.0,324.2 672.0,325.4 687.2,323.2 707.4,321.1 727.6,319.4 747.7,317.6 767.9,316.1 781.7,314.3" fill="none" stroke="#0a0a8c" stroke-width="2.2" stroke-linejoin="round" stroke-dasharray="0.1 3.6" stroke-linecap="round"/>
<polyline points="444.9,320.2 450.2,317.0 457.8,316.4 465.4,315.1 471.0,312.7 477.6,314.0 484.3,317.4 491.8,327.8 499.4,337.2 506.0,342.9 512.6,343.5 520.2,341.0 527.7,338.2 535.3,336.3 547.0,335.3 563.0,335.3 578.1,332.0 593.3,324.4 608.4,315.6 621.0,309.3 631.0,308.0 643.7,310.0 657.0,311.8 667.0,314.8 682.2,315.1 697.3,313.6 712.4,312.6 732.6,311.8 752.8,310.0 767.9,308.0 778.0,306.8 786.8,306.8" fill="none" stroke="#000" stroke-width="2.1" stroke-linejoin="round"/>
<polyline points="444.6,271.0 448.3,279.6 453.0,289.0 455.9,304.1 459.7,308.9 464.4,311.7 469.1,307.0 472.9,303.8 476.7,307.0 480.5,317.4 484.8,330.0 488.6,341.3 491.5,360.2 494.3,377.3 498.0,385.8 502.8,383.9 507.5,384.8 511.3,375.4 514.1,362.1 517.0,348.9 519.8,340.4 525.5,335.7 531.5,327.0 535.3,323.0 539.0,327.8 542.9,331.0 548.0,334.0 555.4,334.5 563.0,335.3 570.6,333.2 578.1,325.7 585.7,313.1 593.3,306.8 600.8,303.0 608.4,300.5 616.0,295.4 623.5,286.6 628.5,296.7 632.3,309.3 638.6,311.8 646.2,308.0 651.2,307.5 657.0,312.5 662.0,324.4 668.3,328.2 674.6,320.6 682.2,316.9 689.8,315.6 697.3,311.8 703.6,306.8 709.9,305.5 715.0,311.8 722.5,313.1 732.6,311.3 745.2,308.5 757.8,309.3 765.4,305.5 771.7,299.7 778.0,301.7 786.8,307.5" fill="none" stroke="#8a1212" stroke-width="2.4" stroke-linejoin="round"/>
<path d="M784.3,309.3 L792.1,331.2 L786.3,331.2 L786.3,345.8 L782.3,345.8 L782.3,331.2 L776.5,331.2 Z" fill="#ff1010"/>
</g>
<rect x="2.0" y="197.2" width="390.0" height="19.0" fill="#fff"/>
<line x1="2.0" y1="197.2" x2="392.0" y2="197.2" stroke="#111" stroke-width="1.3"/>
<line x1="2.0" y1="216.2" x2="392.0" y2="216.2" stroke="#111" stroke-width="1.2"/>
<line x1="33.0" y1="197.2" x2="33.0" y2="202.4" stroke="#111" stroke-width="1.2"/>
<line x1="89.4" y1="197.2" x2="89.4" y2="202.4" stroke="#111" stroke-width="1.2"/>
<line x1="137.6" y1="197.2" x2="137.6" y2="202.4" stroke="#111" stroke-width="1.2"/>
<line x1="183.4" y1="197.2" x2="183.4" y2="202.4" stroke="#111" stroke-width="1.2"/>
<line x1="234.6" y1="197.2" x2="234.6" y2="202.4" stroke="#111" stroke-width="1.2"/>
<line x1="283.0" y1="197.2" x2="283.0" y2="202.4" stroke="#111" stroke-width="1.2"/>
<line x1="334.3" y1="197.2" x2="334.3" y2="216.2" stroke="#111" stroke-width="1.3"/>
<rect x="1.5" y="215.4" width="6.3" height="1.6" fill="#fff"/>
<path d="M8,203.2 L3.5,203.2 Q2.6,203.2 2.6,204.2 L2.6,214.6" fill="none" stroke="#666" stroke-width="1"/>
<path d="M2.6,213.5 Q3,216.6 6.8,216.6" fill="none" stroke="#222" stroke-width="1.3"/>
<line x1="7.8" y1="203.5" x2="7.8" y2="214.5" stroke="#888" stroke-width="1"/>
<text x="8.5" y="214.3" font-family='"Liberation Sans", sans-serif' font-size="11.8" font-weight="normal" fill="#111" text-anchor="start" textLength="28.4" lengthAdjust="spacingAndGlyphs" stroke="#111" stroke-width="0.3">014/06</text>
<text x="90.8" y="214.3" font-family='"Liberation Sans", sans-serif' font-size="11.8" font-weight="normal" fill="#111" text-anchor="start" textLength="4.6" lengthAdjust="spacingAndGlyphs" stroke="#111" stroke-width="0.3">8</text>
<text x="138.7" y="214.3" font-family='"Liberation Sans", sans-serif' font-size="11.8" font-weight="normal" fill="#111" text-anchor="start" textLength="4.6" lengthAdjust="spacingAndGlyphs" stroke="#111" stroke-width="0.3">9</text>
<text x="185.2" y="214.3" font-family='"Liberation Sans", sans-serif' font-size="11.8" font-weight="normal" fill="#111" text-anchor="start" textLength="8.9" lengthAdjust="spacingAndGlyphs" stroke="#111" stroke-width="0.3">10</text>
<text x="235.8" y="214.3" font-family='"Liberation Sans", sans-serif' font-size="11.8" font-weight="normal" fill="#111" text-anchor="start" textLength="8.6" lengthAdjust="spacingAndGlyphs" stroke="#111" stroke-width="0.3">11</text>
<text x="284.6" y="214.3" font-family='"Liberation Sans", sans-serif' font-size="11.8" font-weight="normal" fill="#111" text-anchor="start" textLength="8.9" lengthAdjust="spacingAndGlyphs" stroke="#111" stroke-width="0.3">12</text>
<text x="335.0" y="214.3" font-family='"Liberation Sans", sans-serif' font-size="11.8" font-weight="normal" fill="#111" text-anchor="start" textLength="19.6" lengthAdjust="spacingAndGlyphs" stroke="#111" stroke-width="0.3">2015</text>
<line x1="392.0" y1="0.0" x2="392.0" y2="217.0" stroke="#111" stroke-width="1.3"/>
<line x1="392.0" y1="16.2" x2="396.4" y2="16.2" stroke="#111" stroke-width="1.2"/>
<line x1="392.0" y1="50.8" x2="396.4" y2="50.8" stroke="#111" stroke-width="1.2"/>
<line x1="392.0" y1="85.0" x2="396.4" y2="85.0" stroke="#111" stroke-width="1.2"/>
<line x1="392.0" y1="121.6" x2="396.4" y2="121.6" stroke="#111" stroke-width="1.2"/>
<line x1="392.0" y1="157.8" x2="396.4" y2="157.8" stroke="#111" stroke-width="1.2"/>
<line x1="392.0" y1="194.0" x2="396.4" y2="194.0" stroke="#111" stroke-width="1.2"/>
<g clip-path="url(#cTLy)">
<text x="398.5" y="20.2" font-family='"Liberation Sans", sans-serif' font-size="11.3" font-weight="normal" fill="#111" text-anchor="start" textLength="34" lengthAdjust="spacingAndGlyphs" stroke="#111" stroke-width="0.3">2400.00</text>
<text x="398.5" y="54.8" font-family='"Liberation Sans", sans-serif' font-size="11.3" font-weight="normal" fill="#111" text-anchor="start" textLength="34" lengthAdjust="spacingAndGlyphs" stroke="#111" stroke-width="0.3">2350.00</text>
<text x="398.5" y="89.0" font-family='"Liberation Sans", sans-serif' font-size="11.3" font-weight="normal" fill="#111" text-anchor="start" textLength="34" lengthAdjust="spacingAndGlyphs" stroke="#111" stroke-width="0.3">2300.00</text>
<text x="398.5" y="125.6" font-family='"Liberation Sans", sans-serif' font-size="11.3" font-weight="normal" fill="#111" text-anchor="start" textLength="34" lengthAdjust="spacingAndGlyphs" stroke="#111" stroke-width="0.3">2250.00</text>
<text x="398.5" y="161.8" font-family='"Liberation Sans", sans-serif' font-size="11.3" font-weight="normal" fill="#111" text-anchor="start" textLength="34" lengthAdjust="spacingAndGlyphs" stroke="#111" stroke-width="0.3">2200.00</text>
<text x="398.5" y="198.0" font-family='"Liberation Sans", sans-serif' font-size="11.3" font-weight="normal" fill="#111" text-anchor="start" textLength="34" lengthAdjust="spacingAndGlyphs" stroke="#111" stroke-width="0.3">2150.00</text>
</g>
<rect x="393.8" y="120.2" width="45.3" height="14.2" fill="#ff5c5c"/>
<text x="399.0" y="131.3" font-family='"Liberation Sans", sans-serif' font-size="11.3" font-weight="normal" fill="#fff" text-anchor="start" textLength="36.7" lengthAdjust="spacingAndGlyphs" stroke="#fff" stroke-width="0.3">2,241.72</text>
<text x="404.9" y="146.0" font-family='"Liberation Sans", sans-serif' font-size="10.6" font-weight="normal" fill="#e0282e" text-anchor="start" textLength="25.7" lengthAdjust="spacingAndGlyphs" stroke="#e0282e" stroke-width="0.3">0.31%</text>
<rect x="442.7" y="197.2" width="389.3" height="19.0" fill="#fff"/>
<line x1="442.7" y1="197.2" x2="832.0" y2="197.2" stroke="#111" stroke-width="1.3"/>
<line x1="442.7" y1="216.2" x2="832.0" y2="216.2" stroke="#111" stroke-width="1.2"/>
<line x1="483.5" y1="197.2" x2="483.5" y2="216.2" stroke="#111" stroke-width="1.3"/>
<line x1="525.2" y1="197.2" x2="525.2" y2="216.2" stroke="#111" stroke-width="1.3"/>
<line x1="566.6" y1="197.2" x2="566.6" y2="216.2" stroke="#111" stroke-width="1.3"/>
<line x1="607.8" y1="197.2" x2="607.8" y2="216.2" stroke="#111" stroke-width="1.3"/>
<line x1="649.4" y1="197.2" x2="649.4" y2="216.2" stroke="#111" stroke-width="1.3"/>
<line x1="690.6" y1="197.2" x2="690.6" y2="216.2" stroke="#111" stroke-width="1.3"/>
<line x1="732.0" y1="197.2" x2="732.0" y2="216.2" stroke="#111" stroke-width="1.3"/>
<line x1="773.4" y1="197.2" x2="773.4" y2="216.2" stroke="#111" stroke-width="1.3"/>
<text x="444.2" y="215.1" font-family='"Liberation Sans", sans-serif' font-size="12.4" font-weight="bold" fill="#111" text-anchor="start" textLength="23" lengthAdjust="spacingAndGlyphs" stroke="#111" stroke-width="0.3">2007</text>
<text x="484.8" y="215.1" font-family='"Liberation Sans", sans-serif' font-size="12.4" font-weight="bold" fill="#111" text-anchor="start" textLength="23" lengthAdjust="spacingAndGlyphs" stroke="#111" stroke-width="0.3">2008</text>
<text x="526.5" y="215.1" font-family='"Liberation Sans", sans-serif' font-size="12.4" font-weight="bold" fill="#111" text-anchor="start" textLength="23" lengthAdjust="spacingAndGlyphs" stroke="#111" stroke-width="0.3">2009</text>
<text x="567.9" y="215.1" font-family='"Liberation Sans", sans-serif' font-size="12.4" font-weight="bold" fill="#111" text-anchor="start" textLength="23" lengthAdjust="spacingAndGlyphs" stroke="#111" stroke-width="0.3">2010</text>
<text x="609.1" y="215.1" font-family='"Liberation Sans", sans-serif' font-size="12.4" font-weight="bold" fill="#111" text-anchor="start" textLength="23" lengthAdjust="spacingAndGlyphs" stroke="#111" stroke-width="0.3">2011</text>
<text x="650.7" y="215.1" font-family='"Liberation Sans", sans-serif' font-size="12.4" font-weight="bold" fill="#111" text-anchor="start" textLength="23" lengthAdjust="spacingAndGlyphs" stroke="#111" stroke-width="0.3">2012</text>
<text x="691.9" y="215.1" font-family='"Liberation Sans", sans-serif' font-size="12.4" font-weight="bold" fill="#111" text-anchor="start" textLength="23" lengthAdjust="spacingAndGlyphs" stroke="#111" stroke-width="0.3">2013</text>
<text x="733.3" y="215.1" font-family='"Liberation Sans", sans-serif' font-size="12.4" font-weight="bold" fill="#111" text-anchor="start" textLength="23" lengthAdjust="spacingAndGlyphs" stroke="#111" stroke-width="0.3">2014</text>
<text x="774.7" y="215.1" font-family='"Liberation Sans", sans-serif' font-size="12.4" font-weight="bold" fill="#111" text-anchor="start" textLength="23" lengthAdjust="spacingAndGlyphs" stroke="#111" stroke-width="0.3">2015</text>
<line x1="832.3" y1="0.0" x2="832.3" y2="217.0" stroke="#111" stroke-width="1.3"/>
<line x1="832.3" y1="4.0" x2="836.7" y2="4.0" stroke="#111" stroke-width="1.2"/>
<line x1="832.3" y1="32.9" x2="836.7" y2="32.9" stroke="#111" stroke-width="1.2"/>
<line x1="832.3" y1="68.0" x2="836.7" y2="68.0" stroke="#111" stroke-width="1.2"/>
<line x1="832.3" y1="113.0" x2="836.7" y2="113.0" stroke="#111" stroke-width="1.2"/>
<line x1="832.3" y1="177.5" x2="836.7" y2="177.5" stroke="#111" stroke-width="1.2"/>
<text x="838.8" y="8.0" font-family='"Liberation Sans", sans-serif' font-size="11.3" font-weight="normal" fill="#111" text-anchor="start" textLength="34" lengthAdjust="spacingAndGlyphs" stroke="#111" stroke-width="0.3">3000.00</text>
<text x="838.8" y="36.9" font-family='"Liberation Sans", sans-serif' font-size="11.3" font-weight="normal" fill="#111" text-anchor="start" textLength="34" lengthAdjust="spacingAndGlyphs" stroke="#111" stroke-width="0.3">2500.00</text>
<text x="838.8" y="117.0" font-family='"Liberation Sans", sans-serif' font-size="11.3" font-weight="normal" fill="#111" text-anchor="start" textLength="34" lengthAdjust="spacingAndGlyphs" stroke="#111" stroke-width="0.3">1500.00</text>
<text x="838.8" y="181.5" font-family='"Liberation Sans", sans-serif' font-size="11.3" font-weight="normal" fill="#111" text-anchor="start" textLength="34" lengthAdjust="spacingAndGlyphs" stroke="#111" stroke-width="0.3">1000.00</text>
<rect x="834.7" y="43.0" width="40.3" height="14.0" fill="#ff5c5c"/>
<g clip-path="url(#cR)">
<text x="839.7" y="54.0" font-family='"Liberation Sans", sans-serif' font-size="11.3" font-weight="normal" fill="#fff" text-anchor="start" textLength="36.7" lengthAdjust="spacingAndGlyphs" stroke="#fff" stroke-width="0.3">2,241.72</text>
</g>
<text x="844.8" y="68.6" font-family='"Liberation Sans", sans-serif' font-size="10.6" font-weight="normal" fill="#e0282e" text-anchor="start" textLength="26.5" lengthAdjust="spacingAndGlyphs" stroke="#e0282e" stroke-width="0.3">0.31%</text>
<rect x="2.0" y="453.8" width="390.0" height="19.2" fill="#fff"/>
<line x1="2.0" y1="453.8" x2="392.0" y2="453.8" stroke="#111" stroke-width="1.3"/>
<line x1="2.0" y1="473.0" x2="392.0" y2="473.0" stroke="#111" stroke-width="1.2"/>
<line x1="120.5" y1="453.8" x2="120.5" y2="459.0" stroke="#111" stroke-width="1.2"/>
<line x1="192.8" y1="453.8" x2="192.8" y2="459.0" stroke="#111" stroke-width="1.2"/>
<line x1="265.9" y1="453.8" x2="265.9" y2="459.0" stroke="#111" stroke-width="1.2"/>
<line x1="47.4" y1="453.8" x2="47.4" y2="473.0" stroke="#111" stroke-width="1.3"/>
<line x1="338.4" y1="453.8" x2="338.4" y2="473.0" stroke="#111" stroke-width="1.3"/>
<text x="3.0" y="470.8" font-family='"Liberation Sans", sans-serif' font-size="11.8" font-weight="normal" fill="#111" text-anchor="start" textLength="34" lengthAdjust="spacingAndGlyphs" stroke="#111" stroke-width="0.3">2013/11</text>
<text x="48.6" y="470.8" font-family='"Liberation Sans", sans-serif' font-size="11.8" font-weight="normal" fill="#111" text-anchor="start" textLength="20" lengthAdjust="spacingAndGlyphs" stroke="#111" stroke-width="0.3">2014</text>
<text x="122.5" y="470.8" font-family='"Liberation Sans", sans-serif' font-size="11.8" font-weight="normal" fill="#111" text-anchor="start" textLength="4.6" lengthAdjust="spacingAndGlyphs" stroke="#111" stroke-width="0.3">4</text>
<text x="194.8" y="470.8" font-family='"Liberation Sans", sans-serif' font-size="11.8" font-weight="normal" fill="#111" text-anchor="start" textLength="4.6" lengthAdjust="spacingAndGlyphs" stroke="#111" stroke-width="0.3">7</text>
<text x="267.5" y="470.8" font-family='"Liberation Sans", sans-serif' font-size="11.8" font-weight="normal" fill="#111" text-anchor="start" textLength="8.9" lengthAdjust="spacingAndGlyphs" stroke="#111" stroke-width="0.3">10</text>
<text x="339.3" y="470.8" font-family='"Liberation Sans", sans-serif' font-size="11.8" font-weight="normal" fill="#111" text-anchor="start" textLength="19.6" lengthAdjust="spacingAndGlyphs" stroke="#111" stroke-width="0.3">2015</text>
<line x1="392.0" y1="254.6" x2="392.0" y2="474.0" stroke="#111" stroke-width="1.3"/>
<line x1="392.0" y1="270.7" x2="396.4" y2="270.7" stroke="#111" stroke-width="1.2"/>
<line x1="392.0" y1="297.5" x2="396.4" y2="297.5" stroke="#111" stroke-width="1.2"/>
<line x1="392.0" y1="323.2" x2="396.4" y2="323.2" stroke="#111" stroke-width="1.2"/>
<line x1="392.0" y1="351.0" x2="396.4" y2="351.0" stroke="#111" stroke-width="1.2"/>
<line x1="392.0" y1="379.2" x2="396.4" y2="379.2" stroke="#111" stroke-width="1.2"/>
<line x1="392.0" y1="407.7" x2="396.4" y2="407.7" stroke="#111" stroke-width="1.2"/>
<line x1="392.0" y1="436.6" x2="396.4" y2="436.6" stroke="#111" stroke-width="1.2"/>
<text x="398.5" y="274.7" font-family='"Liberation Sans", sans-serif' font-size="11.3" font-weight="normal" fill="#111" text-anchor="start" textLength="34" lengthAdjust="spacingAndGlyphs" stroke="#111" stroke-width="0.3">2400.00</text>
<text x="398.5" y="301.5" font-family='"Liberation Sans", sans-serif' font-size="11.3" font-weight="normal" fill="#111" text-anchor="start" textLength="34" lengthAdjust="spacingAndGlyphs" stroke="#111" stroke-width="0.3">2350.00</text>
<text x="398.5" y="327.2" font-family='"Liberation Sans", sans-serif' font-size="11.3" font-weight="normal" fill="#111" text-anchor="start" textLength="34" lengthAdjust="spacingAndGlyphs" stroke="#111" stroke-width="0.3">2300.00</text>
<text x="398.5" y="355.0" font-family='"Liberation Sans", sans-serif' font-size="11.3" font-weight="normal" fill="#111" text-anchor="start" textLength="34" lengthAdjust="spacingAndGlyphs" stroke="#111" stroke-width="0.3">2250.00</text>
<text x="398.5" y="383.2" font-family='"Liberation Sans", sans-serif' font-size="11.3" font-weight="normal" fill="#111" text-anchor="start" textLength="34" lengthAdjust="spacingAndGlyphs" stroke="#111" stroke-width="0.3">2200.00</text>
<text x="398.5" y="411.7" font-family='"Liberation Sans", sans-serif' font-size="11.3" font-weight="normal" fill="#111" text-anchor="start" textLength="34" lengthAdjust="spacingAndGlyphs" stroke="#111" stroke-width="0.3">2150.00</text>
<text x="398.5" y="440.6" font-family='"Liberation Sans", sans-serif' font-size="11.3" font-weight="normal" fill="#111" text-anchor="start" textLength="34" lengthAdjust="spacingAndGlyphs" stroke="#111" stroke-width="0.3">2100.00</text>
<rect x="393.8" y="349.0" width="45.3" height="14.2" fill="#ff5c5c"/>
<text x="399.0" y="360.1" font-family='"Liberation Sans", sans-serif' font-size="11.3" font-weight="normal" fill="#fff" text-anchor="start" textLength="36.7" lengthAdjust="spacingAndGlyphs" stroke="#fff" stroke-width="0.3">2,241.72</text>
<rect x="398.0" y="363.5" width="40.0" height="14.0" fill="#afeeee"/>
<text x="404.9" y="372.6" font-family='"Liberation Sans", sans-serif' font-size="10.6" font-weight="normal" fill="#e0282e" text-anchor="start" textLength="25.7" lengthAdjust="spacingAndGlyphs" stroke="#e0282e" stroke-width="0.3">0.31%</text>
<rect x="442.7" y="453.8" width="390.3" height="19.2" fill="#fff"/>
<line x1="442.7" y1="453.8" x2="833.0" y2="453.8" stroke="#111" stroke-width="1.3"/>
<line x1="442.7" y1="473.0" x2="833.0" y2="473.0" stroke="#111" stroke-width="1.2"/>
<line x1="498.7" y1="453.8" x2="498.7" y2="473.0" stroke="#111" stroke-width="1.3"/>
<line x1="546.1" y1="453.8" x2="546.1" y2="473.0" stroke="#111" stroke-width="1.3"/>
<line x1="593.8" y1="453.8" x2="593.8" y2="473.0" stroke="#111" stroke-width="1.3"/>
<line x1="641.1" y1="453.8" x2="641.1" y2="473.0" stroke="#111" stroke-width="1.3"/>
<line x1="688.5" y1="453.8" x2="688.5" y2="473.0" stroke="#111" stroke-width="1.3"/>
<line x1="736.4" y1="453.8" x2="736.4" y2="473.0" stroke="#111" stroke-width="1.3"/>
<line x1="783.8" y1="453.8" x2="783.8" y2="473.0" stroke="#111" stroke-width="1.3"/>
<text x="444.0" y="470.8" font-family='"Liberation Sans", sans-serif' font-size="11.8" font-weight="normal" fill="#111" text-anchor="start" textLength="33.3" lengthAdjust="spacingAndGlyphs" stroke="#111" stroke-width="0.3">2007/11</text>
<text x="499.3" y="470.8" font-family='"Liberation Sans", sans-serif' font-size="11.8" font-weight="normal" fill="#111" text-anchor="start" textLength="20.2" lengthAdjust="spacingAndGlyphs" stroke="#111" stroke-width="0.3">2009</text>
<text x="546.7" y="470.8" font-family='"Liberation Sans", sans-serif' font-size="11.8" font-weight="normal" fill="#111" text-anchor="start" textLength="20.2" lengthAdjust="spacingAndGlyphs" stroke="#111" stroke-width="0.3">2010</text>
<text x="594.4" y="470.8" font-family='"Liberation Sans", sans-serif' font-size="11.8" font-weight="normal" fill="#111" text-anchor="start" textLength="20.2" lengthAdjust="spacingAndGlyphs" stroke="#111" stroke-width="0.3">2011</text>
<text x="641.7" y="470.8" font-family='"Liberation Sans", sans-serif' font-size="11.8" font-weight="normal" fill="#111" text-anchor="start" textLength="20.2" lengthAdjust="spacingAndGlyphs" stroke="#111" stroke-width="0.3">2012</text>
<text x="689.1" y="470.8" font-family='"Liberation Sans", sans-serif' font-size="11.8" font-weight="normal" fill="#111" text-anchor="start" textLength="20.2" lengthAdjust="spacingAndGlyphs" stroke="#111" stroke-width="0.3">2013</text>
<text x="737.0" y="470.8" font-family='"Liberation Sans", sans-serif' font-size="11.8" font-weight="normal" fill="#111" text-anchor="start" textLength="20.2" lengthAdjust="spacingAndGlyphs" stroke="#111" stroke-width="0.3">2014</text>
<text x="784.4" y="470.8" font-family='"Liberation Sans", sans-serif' font-size="11.8" font-weight="bold" fill="#111" text-anchor="start" textLength="20.2" lengthAdjust="spacingAndGlyphs" stroke="#111" stroke-width="0.3">2015</text>
<line x1="833.0" y1="254.6" x2="833.0" y2="474.0" stroke="#111" stroke-width="1.3"/>
<line x1="833.0" y1="260.2" x2="837.4" y2="260.2" stroke="#111" stroke-width="1.2"/>
<line x1="833.0" y1="288.6" x2="837.4" y2="288.6" stroke="#111" stroke-width="1.2"/>
<line x1="833.0" y1="324.3" x2="837.4" y2="324.3" stroke="#111" stroke-width="1.2"/>
<line x1="833.0" y1="368.6" x2="837.4" y2="368.6" stroke="#111" stroke-width="1.2"/>
<line x1="833.0" y1="432.9" x2="837.4" y2="432.9" stroke="#111" stroke-width="1.2"/>
<text x="839.5" y="264.2" font-family='"Liberation Sans", sans-serif' font-size="11.3" font-weight="normal" fill="#111" text-anchor="start" textLength="34" lengthAdjust="spacingAndGlyphs" stroke="#111" stroke-width="0.3">3000.00</text>
<text x="839.5" y="292.6" font-family='"Liberation Sans", sans-serif' font-size="11.3" font-weight="normal" fill="#111" text-anchor="start" textLength="34" lengthAdjust="spacingAndGlyphs" stroke="#111" stroke-width="0.3">2500.00</text>
<text x="839.5" y="328.3" font-family='"Liberation Sans", sans-serif' font-size="11.3" font-weight="normal" fill="#111" text-anchor="start" textLength="34" lengthAdjust="spacingAndGlyphs" stroke="#111" stroke-width="0.3">2000.00</text>
<text x="839.5" y="372.6" font-family='"Liberation Sans", sans-serif' font-size="11.3" font-weight="normal" fill="#111" text-anchor="start" textLength="34" lengthAdjust="spacingAndGlyphs" stroke="#111" stroke-width="0.3">1500.00</text>
<text x="839.5" y="436.9" font-family='"Liberation Sans", sans-serif' font-size="11.3" font-weight="normal" fill="#111" text-anchor="start" textLength="34" lengthAdjust="spacingAndGlyphs" stroke="#111" stroke-width="0.3">1000.00</text>
<rect x="834.7" y="298.9" width="40.3" height="14.0" fill="#ff5c5c"/>
<g clip-path="url(#cR)">
<text x="839.7" y="309.9" font-family='"Liberation Sans", sans-serif' font-size="11.3" font-weight="normal" fill="#fff" text-anchor="start" textLength="36.7" lengthAdjust="spacingAndGlyphs" stroke="#fff" stroke-width="0.3">2,241.72</text>
</g>
<rect x="838.0" y="313.5" width="37.0" height="13.4" fill="#afeeee"/>
<text x="844.8" y="324.2" font-family='"Liberation Sans", sans-serif' font-size="10.6" font-weight="normal" fill="#e0282e" text-anchor="start" textLength="26.5" lengthAdjust="spacingAndGlyphs" stroke="#e0282e" stroke-width="0.3">0.31%</text>
<text x="352.0" y="246.6" font-family='"Liberation Serif", "Noto Serif CJK SC", "Noto Serif CJK KR", serif' font-size="28.6" font-weight="600" fill="#1212ff" textLength="22.6" lengthAdjust="spacingAndGlyphs">중</text>
<text x="379.2" y="246.6" font-family='"Liberation Serif", "Noto Serif CJK SC", "Noto Serif CJK KR", serif' font-size="28.6" font-weight="600" fill="#1212ff" textLength="22.8" lengthAdjust="spacingAndGlyphs">형</text>
<text x="404.2" y="246.6" font-family='"Liberation Serif", "Noto Serif CJK SC", "Noto Serif CJK KR", serif' font-size="28.6" font-weight="600" fill="#1212ff" textLength="23.6" lengthAdjust="spacingAndGlyphs">주</text>
<text x="436.3" y="246.6" font-family='"Liberation Serif", "Noto Serif CJK SC", "Noto Serif CJK KR", serif' font-size="28.6" font-weight="600" fill="#1212ff" textLength="29" lengthAdjust="spacingAndGlyphs">지</text>
<text x="466.4" y="246.6" font-family='"Liberation Serif", "Noto Serif CJK SC", "Noto Serif CJK KR", serif' font-size="28.6" font-weight="600" fill="#1212ff" textLength="23.4" lengthAdjust="spacingAndGlyphs">수</text>
<ellipse cx="388.6" cy="232.3" rx="46.6" ry="27.6" fill="none" stroke="#ff0606" stroke-width="4.4"/>
</svg>
</body></html>
